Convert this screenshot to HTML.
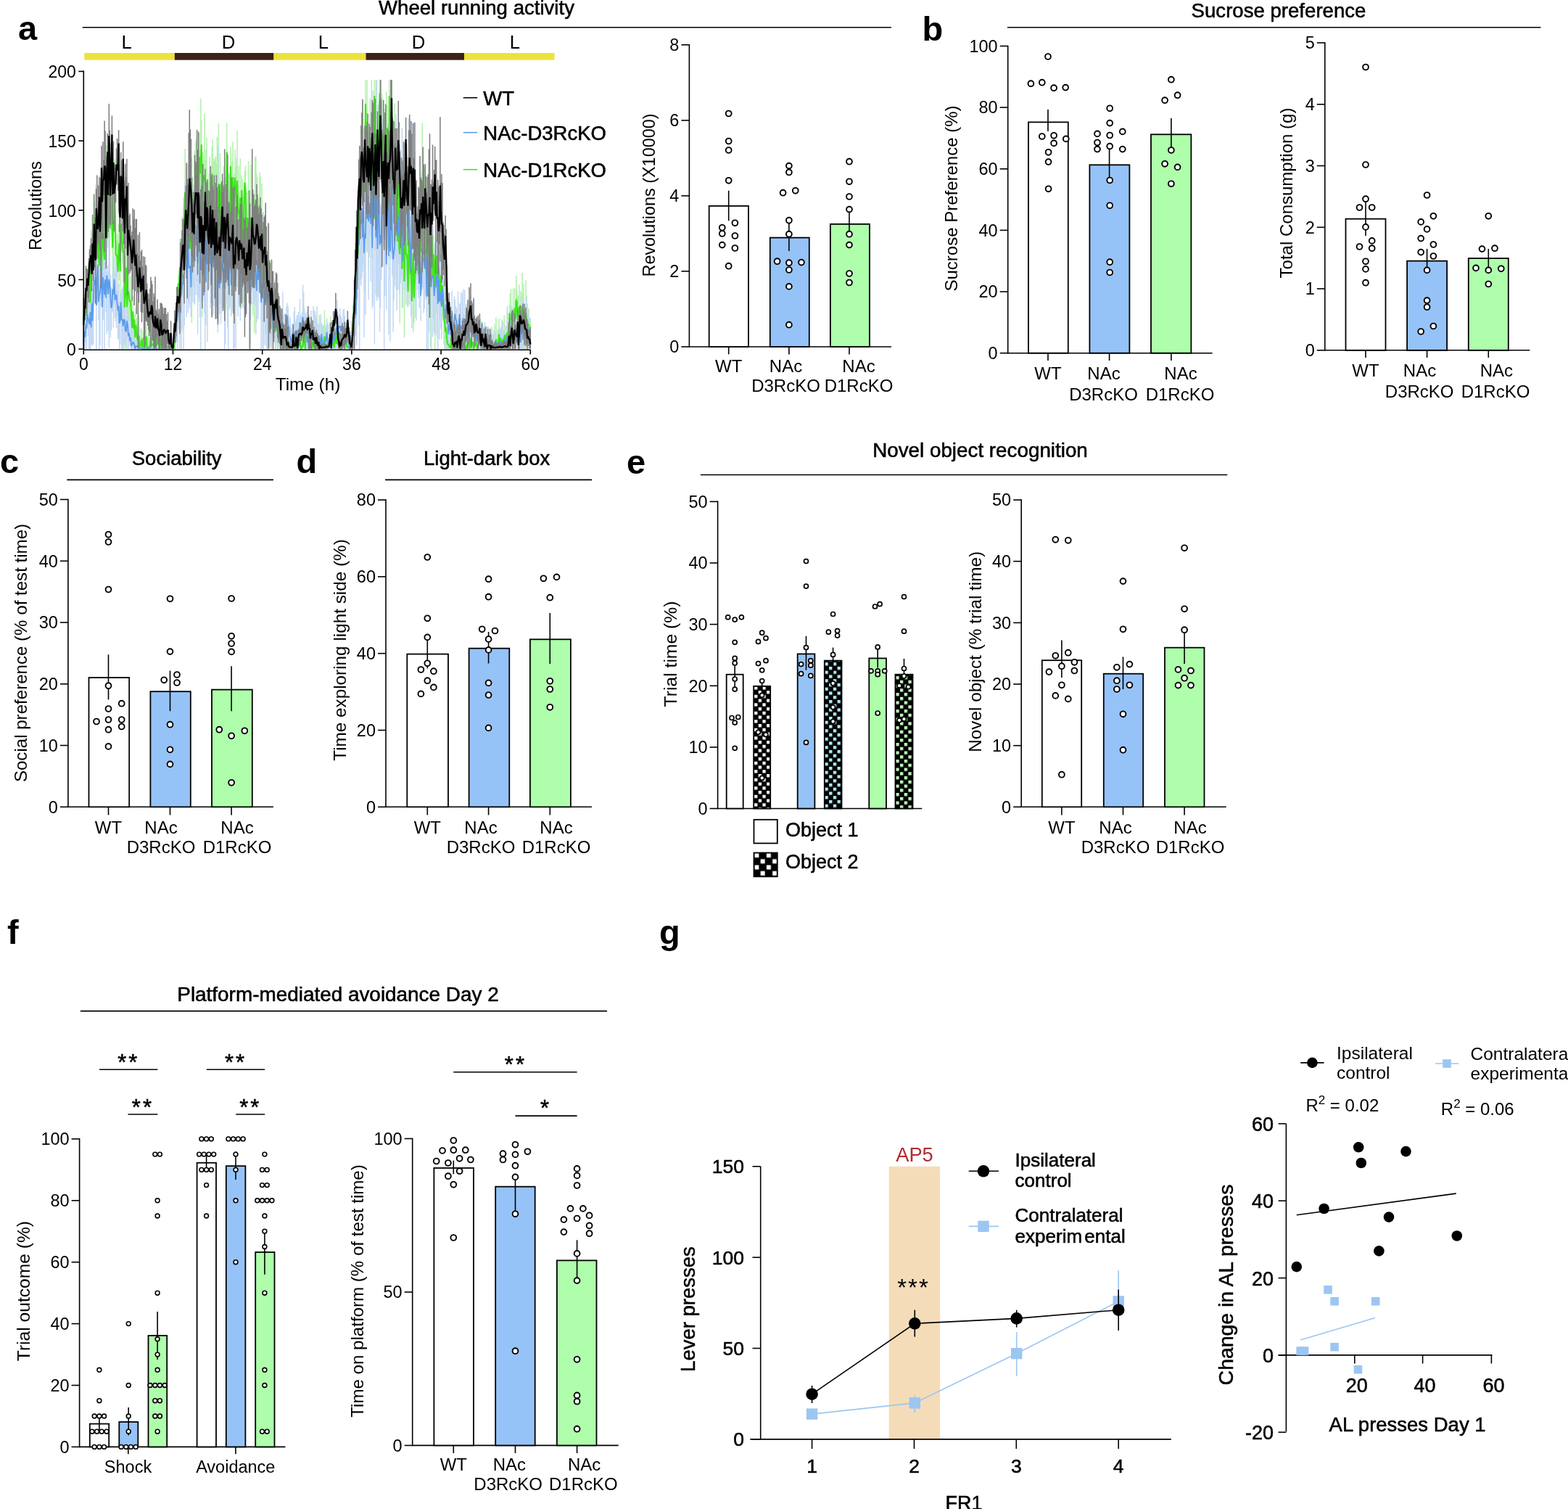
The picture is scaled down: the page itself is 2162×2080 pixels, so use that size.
<!DOCTYPE html>
<html><head><meta charset="utf-8"><title>Figure</title>
<style>html,body{margin:0;padding:0;background:#fff;} svg{display:block;} text{font-family:'Liberation Sans', Arial, sans-serif;} .ti{stroke:#000;stroke-width:0.55px;}</style>
</head><body>
<svg width="2162" height="2080" viewBox="0 0 2162 2080">
<rect width="2162" height="2080" fill="#fff"/>
<text x="25.0" y="54.5" font-size="47" text-anchor="start" font-weight="bold" fill="#000">a</text>
<text x="657.0" y="19.5" font-size="27.6" text-anchor="middle" fill="#000" class="ti">Wheel running activity</text>
<line x1="113.7" y1="37.8" x2="1229.0" y2="37.8" stroke="#000" stroke-width="1.6"/>
<rect x="116.3" y="73" width="124.5" height="9.7" fill="#ebe33c"/>
<rect x="240.8" y="73" width="136.7" height="9.7" fill="#3b2216"/>
<rect x="377.5" y="73" width="127.0" height="9.7" fill="#ebe33c"/>
<rect x="504.5" y="73" width="135.5" height="9.7" fill="#3b2216"/>
<rect x="640" y="73" width="124.5" height="9.7" fill="#ebe33c"/>
<text x="174.6" y="67.0" font-size="25.7" text-anchor="middle" fill="#000">L</text>
<text x="315.0" y="67.0" font-size="25.7" text-anchor="middle" fill="#000">D</text>
<text x="446.0" y="67.0" font-size="25.7" text-anchor="middle" fill="#000">L</text>
<text x="577.0" y="67.0" font-size="25.7" text-anchor="middle" fill="#000">D</text>
<text x="709.8" y="67.0" font-size="25.7" text-anchor="middle" fill="#000">L</text>
<path d="M115.3 459.1V428.7M116.3 456.7V429.7M117.4 440.6V400.7M118.4 441.6V418.8M119.4 474.9V386.7M120.4 432.1V389.5M121.5 409.2V364.2M122.5 425.2V384.4M123.5 388.3V347.3M124.6 426.7V408.0M125.6 367.1V317.2M126.6 376.7V322.0M127.6 351.9V324.8M128.7 376.4V319.3M129.7 364.7V326.6M130.7 353.7V277.7M131.8 366.8V254.2M132.8 391.6V294.6M133.8 372.1V289.6M134.8 341.0V257.2M135.9 418.9V288.0M136.9 395.7V333.2M137.9 344.0V250.1M139.0 370.6V272.5M140.0 416.1V337.0M141.0 345.4V298.6M142.0 415.2V265.8M143.1 379.6V321.7M144.1 393.0V330.5M145.1 320.6V260.3M146.2 325.5V200.2M147.2 338.7V264.9M148.2 341.2V313.7M149.2 319.7V216.2M150.3 342.7V184.9M151.3 386.6V233.6M152.3 317.1V247.5M153.4 309.3V223.6M154.4 341.9V259.0M155.4 405.0V277.5M156.4 366.5V263.2M157.5 320.4V284.0M158.5 322.8V219.6M159.5 404.7V298.5M160.5 364.4V331.3M161.6 381.2V322.5M162.6 417.9V331.2M163.6 370.6V308.6M164.7 386.6V287.3M165.7 434.1V320.0M166.7 339.9V261.6M167.7 346.7V281.0M168.8 363.4V322.4M169.8 389.0V301.3M170.8 418.7V286.8M171.9 481.2V363.1M172.9 412.3V353.9M173.9 407.9V339.2M174.9 481.2V367.1M176.0 441.9V347.5M177.0 439.9V369.1M178.0 458.7V371.4M179.1 438.4V398.3M180.1 441.6V380.5M181.1 449.3V415.0M182.1 481.2V430.2M183.2 452.0V407.9M184.2 477.9V435.6M185.2 451.3V432.9M186.3 478.8V451.5M187.3 476.6V423.7M188.3 475.0V438.1M189.3 481.2V450.6M190.4 481.2V445.3M191.4 481.2V435.6M192.4 481.2V450.6M193.5 481.2V464.0M194.5 481.2V454.5M195.5 481.2V452.6M196.5 481.2V469.6M197.6 472.2V456.8M198.6 481.2V459.2M199.6 481.2V469.7M200.7 481.2V432.0M201.7 481.2V446.8M202.7 481.2V463.5M203.7 481.2V466.7M204.8 481.2V444.1M205.8 481.2V470.2M206.8 481.2V461.8M207.9 472.8V453.8M208.9 481.2V459.4M209.9 481.2V459.2M210.9 481.2V443.1M212.0 480.6V466.8M213.0 481.2V452.7M214.0 481.2V437.1M215.1 481.2V464.3M216.1 481.2V458.8M217.1 471.8V448.2M218.1 481.2V468.2M219.2 481.2V459.5M220.2 481.2V429.7M221.2 481.2V462.0M222.3 481.2V474.1M223.3 481.2V453.0M224.3 481.2V462.8M225.3 481.2V449.8M226.4 481.2V447.2M227.4 481.2V463.9M228.4 480.3V469.9M229.5 479.6V475.3M230.5 481.2V468.2M231.5 481.2V472.8M232.5 481.2V470.2M233.6 481.2V471.1M234.6 481.2V474.8M235.6 481.2V475.0M236.6 481.2V477.3M237.7 481.2V479.1M238.7 481.2V474.6M239.7 481.2V461.4M240.8 468.4V451.0M241.8 474.0V424.8M242.8 465.5V418.5M243.8 470.6V401.2M244.9 455.1V401.6M245.9 407.2V379.3M246.9 441.2V372.6M248.0 390.7V329.0M249.0 442.0V379.7M250.0 441.6V376.5M251.0 348.8V299.0M252.1 374.6V310.4M253.1 327.6V271.4M254.1 325.0V295.6M255.2 321.9V204.9M256.2 303.2V261.0M257.2 317.0V233.1M258.2 347.5V274.2M259.3 398.2V288.4M260.3 356.2V302.1M261.3 380.4V243.4M262.4 387.3V283.0M263.4 394.5V255.1M264.4 445.1V216.9M265.4 304.5V243.5M266.5 317.7V285.5M267.5 407.1V305.9M268.5 407.6V207.6M269.6 343.1V194.8M270.6 269.5V191.9M271.6 302.8V209.9M272.6 365.9V253.2M273.7 340.5V293.5M274.7 262.6V183.5M275.7 267.8V205.8M276.8 341.5V136.0M277.8 219.9V165.9M278.8 436.8V226.0M279.8 366.8V210.0M280.9 265.8V221.4M281.9 351.0V156.9M282.9 278.0V219.6M284.0 351.9V205.7M285.0 356.3V189.6M286.0 386.7V307.0M287.0 299.3V250.9M288.1 386.8V239.5M289.1 313.7V215.8M290.1 332.0V282.1M291.2 272.5V229.7M292.2 311.8V202.0M293.2 345.5V192.3M294.2 285.9V222.0M295.3 371.4V218.3M296.3 395.9V221.3M297.3 395.0V215.5M298.4 421.5V225.5M299.4 338.4V188.5M300.4 299.5V270.7M301.4 337.5V170.1M302.5 403.2V290.1M303.5 313.5V210.9M304.5 318.1V269.7M305.6 336.3V295.9M306.6 325.3V268.3M307.6 336.5V248.2M308.6 279.4V229.3M309.7 343.1V278.1M310.7 359.3V299.3M311.7 427.7V256.2M312.7 240.7V169.9M313.8 321.8V234.5M314.8 417.1V248.6M315.8 311.0V239.6M316.9 415.2V279.0M317.9 266.7V202.3M318.9 436.3V297.3M319.9 329.1V221.9M321.0 288.9V195.1M322.0 382.4V299.2M323.0 283.9V239.3M324.1 285.1V206.5M325.1 306.2V228.6M326.1 383.1V218.4M327.1 299.7V179.9M328.2 310.1V270.3M329.2 389.8V228.7M330.2 334.8V270.5M331.3 306.9V218.3M332.3 355.6V297.8M333.3 283.5V241.7M334.3 422.6V247.6M335.4 405.7V297.7M336.4 317.7V261.0M337.4 269.7V235.4M338.5 298.3V228.3M339.5 364.6V309.6M340.5 331.8V265.5M341.5 393.0V273.4M342.6 372.1V222.3M343.6 333.9V270.4M344.6 469.8V294.9M345.7 358.7V227.2M346.7 383.0V315.9M347.7 351.7V319.9M348.7 434.8V311.2M349.8 419.0V316.7M350.8 458.8V274.3M351.8 372.6V216.6M352.9 337.5V215.6M353.9 444.5V239.0M354.9 278.4V244.1M355.9 351.7V274.0M357.0 385.8V334.6M358.0 389.2V237.4M359.0 354.9V243.5M360.1 359.8V334.4M361.1 400.8V253.0M362.1 333.9V292.8M363.1 466.2V324.4M364.2 427.1V369.8M365.2 399.8V326.2M366.2 398.3V320.9M367.3 424.7V349.4M368.3 378.5V342.7M369.3 414.1V307.6M370.3 452.0V378.4M371.4 415.5V357.5M372.4 428.3V358.7M373.4 446.7V396.4M374.5 444.0V358.6M375.5 462.2V413.6M376.5 461.5V399.5M377.5 451.3V393.3M378.6 454.5V424.7M379.6 454.2V430.6M380.6 480.8V431.9M381.7 467.8V421.4M382.7 477.1V414.8M383.7 481.2V428.0M384.7 459.2V438.9M385.8 481.2V441.5M386.8 481.2V434.0M387.8 481.2V436.1M388.8 481.2V442.2M389.9 479.4V462.5M390.9 481.2V435.4M391.9 481.2V464.1M393.0 481.2V449.0M394.0 481.2V469.9M395.0 481.0V437.2M396.0 481.2V469.0M397.1 481.2V444.3M398.1 481.2V466.9M399.1 481.2V468.2M400.2 480.7V475.3M401.2 481.2V475.1M402.2 481.2V475.7M403.2 481.2V471.2M404.3 481.2V472.3M405.3 481.2V472.4M406.3 481.2V471.3M407.4 481.2V471.2M408.4 481.2V456.4M409.4 481.2V441.9M410.4 481.2V449.1M411.5 481.2V452.4M412.5 478.5V466.0M413.5 475.7V457.0M414.6 481.2V467.9M415.6 481.2V471.1M416.6 481.2V456.0M417.6 481.2V447.2M418.7 476.7V447.9M419.7 468.7V445.0M420.7 481.2V466.9M421.8 480.9V436.1M422.8 478.0V447.8M423.8 481.2V442.8M424.8 481.2V450.4M425.9 481.2V433.5M426.9 481.2V442.9M427.9 481.2V460.0M429.0 481.2V452.5M430.0 481.2V446.6M431.0 481.2V453.2M432.0 481.2V450.7M433.1 481.2V455.9M434.1 481.2V457.4M435.1 481.2V466.6M436.2 475.2V449.5M437.2 481.2V461.6M438.2 478.7V450.9M439.2 481.2V462.3M440.3 481.2V433.9M441.3 481.2V458.4M442.3 481.2V433.1M443.4 481.2V448.7M444.4 481.2V448.4M445.4 481.2V459.9M446.4 481.2V449.0M447.5 481.2V427.6M448.5 481.2V447.0M449.5 481.2V450.2M450.6 481.2V459.3M451.6 481.2V444.8M452.6 481.2V468.0M453.6 481.2V465.5M454.7 481.2V445.2M455.7 481.2V436.3M456.7 479.2V450.8M457.8 481.2V459.8M458.8 481.2V455.4M459.8 481.2V455.8M460.8 481.2V469.5M461.9 471.2V452.5M462.9 481.2V450.4M463.9 481.2V466.1M464.9 463.3V445.9M466.0 480.0V451.6M467.0 475.6V454.6M468.0 481.2V444.5M469.1 481.2V453.9M470.1 481.2V463.7M471.1 481.2V467.7M472.1 478.9V453.2M473.2 481.2V455.7M474.2 481.2V453.7M475.2 481.2V457.7M476.3 481.2V444.9M477.3 481.2V448.5M478.3 481.2V473.1M479.3 481.2V468.2M480.4 481.2V474.1M481.4 481.2V472.3M482.4 481.2V473.0M483.5 481.2V475.6M484.5 481.2V478.2M485.5 481.2V454.4M486.5 470.4V421.8M487.6 465.5V419.7M488.6 438.3V385.4M489.6 447.7V395.8M490.7 407.2V367.5M491.7 452.5V373.7M492.7 350.0V323.1M493.7 386.9V311.7M494.8 292.8V250.3M495.8 308.0V228.0M496.8 358.2V213.3M497.9 296.0V201.3M498.9 298.7V219.0M499.9 279.8V139.3M500.9 261.6V177.5M502.0 302.0V221.0M503.0 324.0V222.1M504.0 201.4V109.9M505.1 308.5V150.2M506.1 348.1V109.9M507.1 222.6V176.0M508.1 372.1V182.5M509.2 270.2V225.4M510.2 281.3V135.9M511.2 246.0V164.3M512.3 356.6V109.9M513.3 322.4V281.4M514.3 318.4V151.4M515.3 270.7V137.5M516.4 159.9V109.9M517.4 345.3V254.6M518.4 291.5V109.9M519.5 353.8V155.0M520.5 216.4V166.1M521.5 287.2V196.5M522.5 218.5V157.3M523.6 148.5V109.9M524.6 234.1V134.1M525.6 232.0V109.9M526.7 271.2V130.1M527.7 303.1V215.2M528.7 226.2V138.4M529.7 287.0V149.3M530.8 326.8V184.8M531.8 253.7V187.1M532.8 324.4V126.2M533.9 198.1V145.6M534.9 295.1V190.9M535.9 329.6V209.6M536.9 285.2V109.9M538.0 208.4V124.0M539.0 208.7V109.9M540.0 323.1V115.5M541.0 340.6V182.6M542.1 319.0V165.5M543.1 352.0V192.9M544.1 283.9V142.4M545.2 285.8V170.0M546.2 384.3V249.1M547.2 303.1V207.3M548.2 396.4V242.6M549.3 256.6V231.9M550.3 357.1V312.4M551.3 445.8V266.3M552.4 352.3V236.7M553.4 332.1V266.8M554.4 425.3V322.6M555.4 331.0V217.6M556.5 318.2V254.3M557.5 465.7V333.8M558.5 311.1V248.8M559.6 396.7V317.6M560.6 380.4V315.8M561.6 422.3V297.7M562.6 423.6V382.2M563.7 346.6V300.5M564.7 420.3V301.5M565.7 392.2V360.4M566.8 383.6V354.5M567.8 452.4V372.6M568.8 413.9V345.1M569.8 382.7V319.6M570.9 444.8V377.0M571.9 415.3V366.7M572.9 438.1V308.4M574.0 354.6V317.3M575.0 337.4V299.7M576.0 383.5V351.8M577.0 403.7V350.2M578.1 381.1V257.6M579.1 374.6V308.4M580.1 409.8V296.1M581.2 311.9V237.7M582.2 393.6V169.4M583.2 349.0V241.2M584.2 332.3V292.9M585.3 353.2V230.4M586.3 393.0V338.2M587.3 384.7V265.7M588.4 409.3V322.5M589.4 332.5V254.3M590.4 339.4V262.4M591.4 370.5V326.8M592.5 371.1V341.2M593.5 477.6V339.7M594.5 417.9V307.4M595.6 374.7V288.7M596.6 417.6V357.4M597.6 362.4V339.1M598.6 373.8V342.7M599.7 481.2V334.7M600.7 386.0V347.1M601.7 380.7V327.7M602.8 396.6V368.4M603.8 419.3V369.4M604.8 395.2V346.8M605.8 443.0V385.8M606.9 414.8V368.1M607.9 399.7V358.7M608.9 450.6V398.9M610.0 412.8V367.8M611.0 438.3V385.2M612.0 475.3V420.2M613.0 481.2V397.1M614.1 481.2V434.0M615.1 462.8V429.5M616.1 481.2V453.6M617.1 481.2V442.9M618.2 481.2V464.8M619.2 481.2V468.8M620.2 481.2V467.7M621.3 481.2V456.2M622.3 471.5V454.8M623.3 481.2V439.7M624.3 481.2V472.9M625.4 480.6V476.5M626.4 481.2V473.2M627.4 481.2V468.5M628.5 481.2V476.1M629.5 481.2V476.4M630.5 481.2V472.9M631.5 481.2V469.5M632.6 481.2V470.6M633.6 481.2V473.8M634.6 481.2V472.4M635.7 481.2V472.5M636.7 481.2V468.0M637.7 481.2V466.9M638.7 481.2V472.4M639.8 481.2V438.8M640.8 481.2V462.6M641.8 481.2V458.1M642.9 481.2V469.5M643.9 481.2V463.9M644.9 481.2V450.9M645.9 481.1V460.8M647.0 481.2V448.2M648.0 481.2V468.0M649.0 481.2V448.1M650.1 481.2V458.6M651.1 481.2V457.5M652.1 481.2V453.6M653.1 481.2V451.4M654.2 481.2V443.0M655.2 481.2V466.5M656.2 481.2V450.0M657.3 481.2V460.5M658.3 481.2V470.3M659.3 481.2V456.9M660.3 480.6V462.8M661.4 481.2V451.4M662.4 481.2V439.4M663.4 468.1V454.8M664.5 481.2V448.7M665.5 481.2V447.3M666.5 481.2V459.7M667.5 481.2V458.9M668.6 481.2V450.6M669.6 481.2V458.0M670.6 481.2V449.7M671.7 481.2V464.5M672.7 481.2V449.8M673.7 481.2V465.5M674.7 481.2V467.2M675.8 481.2V460.3M676.8 481.2V457.8M677.8 481.2V450.2M678.9 477.4V462.8M679.9 481.2V465.3M680.9 481.2V460.5M681.9 481.2V446.5M683.0 481.2V466.3M684.0 481.2V437.6M685.0 481.2V466.2M686.1 481.2V453.6M687.1 481.2V455.5M688.1 471.1V439.0M689.1 481.2V465.8M690.2 472.4V458.6M691.2 481.2V470.2M692.2 481.2V440.3M693.2 481.2V447.1M694.3 481.2V456.9M695.3 481.2V434.7M696.3 471.3V448.2M697.4 481.2V458.9M698.4 470.9V451.1M699.4 481.2V421.9M700.4 481.2V431.7M701.5 464.0V437.6M702.5 477.0V420.3M703.5 461.8V404.6M704.6 481.2V398.2M705.6 436.5V422.4M706.6 481.2V431.1M707.6 457.1V398.0M708.7 454.9V432.5M709.7 446.2V396.8M710.7 468.8V414.9M711.8 449.7V379.8M712.8 430.8V399.4M713.8 462.2V409.0M714.8 441.6V407.6M715.9 461.1V392.2M716.9 474.5V431.5M717.9 446.0V401.4M719.0 452.5V430.5M720.0 481.2V375.9M721.0 481.2V404.5M722.0 458.9V390.9M723.1 467.4V437.4M724.1 481.2V434.1M725.1 481.2V386.8M726.2 477.2V407.7M727.2 455.1V428.6M728.2 469.1V426.4M729.2 476.4V425.3M730.3 478.9V437.8M731.3 460.9V438.4" stroke="#b4f2ae" stroke-width="1.54" fill="none"/>
<path d="M115.3 481.2V441.8M116.3 480.8V432.1M117.4 481.2V433.2M118.4 472.4V410.6M119.4 481.2V407.0M120.4 450.5V392.2M121.5 463.6V412.7M122.5 481.1V414.3M123.5 480.2V411.1M124.6 481.2V400.4M125.6 473.0V421.8M126.6 476.3V352.9M127.6 475.8V398.3M128.7 474.2V343.8M129.7 410.1V359.5M130.7 418.1V354.3M131.8 406.8V348.6M132.8 481.2V386.2M133.8 419.8V348.0M134.8 418.9V323.9M135.9 440.9V379.4M136.9 481.2V321.0M137.9 476.2V343.4M139.0 422.4V358.6M140.0 402.3V335.2M141.0 481.2V358.9M142.0 441.6V323.4M143.1 438.6V358.8M144.1 481.2V337.5M145.1 401.4V361.3M146.2 430.5V374.2M147.2 460.4V294.8M148.2 401.8V373.9M149.2 455.9V365.5M150.3 478.9V316.8M151.3 424.8V350.3M152.3 465.3V378.5M153.4 455.8V396.2M154.4 430.5V404.1M155.4 428.9V375.4M156.4 451.6V363.7M157.5 418.9V353.5M158.5 438.3V374.1M159.5 443.0V372.7M160.5 452.2V362.2M161.6 436.0V400.4M162.6 467.8V395.9M163.6 466.7V391.0M164.7 481.2V415.5M165.7 474.8V419.2M166.7 428.1V404.1M167.7 481.2V399.4M168.8 481.2V397.0M169.8 481.2V394.3M170.8 476.2V400.9M171.9 475.7V390.2M172.9 472.6V421.5M173.9 479.5V436.3M174.9 466.3V412.5M176.0 461.7V434.8M177.0 481.2V439.5M178.0 471.5V439.2M179.1 477.6V457.8M180.1 481.2V432.1M181.1 481.2V447.0M182.1 481.2V453.3M183.2 481.2V447.2M184.2 481.2V441.3M185.2 481.2V459.6M186.3 481.2V472.8M187.3 480.6V474.4M188.3 481.2V471.0M189.3 481.2V472.5M190.4 480.7V476.0M191.4 481.2V471.0M192.4 481.2V474.8M193.5 481.2V472.1M194.5 481.2V473.1M195.5 481.2V477.1M196.5 481.2V476.6M197.6 481.2V478.3M198.6 481.2V478.4M199.6 481.2V477.7M200.7 481.2V476.2M201.7 481.2V473.8M202.7 481.2V478.5M203.7 481.2V475.7M204.8 481.2V477.1M205.8 481.2V477.5M206.8 481.2V474.5M207.9 481.2V477.7M208.9 481.2V473.7M209.9 481.2V477.7M210.9 481.2V478.5M212.0 481.2V475.5M213.0 481.2V479.1M214.0 481.2V478.8M215.1 481.2V477.5M216.1 481.2V477.1M217.1 481.2V477.6M218.1 481.2V479.5M219.2 481.2V479.0M220.2 481.2V476.1M221.2 481.2V476.0M222.3 481.2V478.6M223.3 481.2V476.6M224.3 481.2V476.7M225.3 481.2V474.8M226.4 481.2V478.3M227.4 481.2V473.6M228.4 481.2V477.6M229.5 481.2V473.6M230.5 481.2V475.0M231.5 481.2V478.6M232.5 481.2V477.6M233.6 481.2V476.6M234.6 481.2V474.8M235.6 481.2V479.0M236.6 481.2V477.9M237.7 481.2V475.8M238.7 481.2V475.0M239.7 473.0V452.0M240.8 477.0V454.2M241.8 481.2V441.9M242.8 462.0V430.8M243.8 470.2V416.2M244.9 481.2V396.1M245.9 454.3V398.2M246.9 419.8V402.5M248.0 480.7V355.4M249.0 452.7V339.3M250.0 481.2V329.8M251.0 455.9V327.6M252.1 410.9V369.4M253.1 481.2V284.8M254.1 449.1V316.1M255.2 367.2V251.3M256.2 366.4V268.2M257.2 436.9V333.2M258.2 408.6V296.0M259.3 431.0V226.1M260.3 417.4V302.3M261.3 424.1V312.6M262.4 408.7V333.2M263.4 436.6V321.3M264.4 374.5V274.1M265.4 416.7V295.8M266.5 394.3V254.1M267.5 418.0V260.5M268.5 419.9V277.6M269.6 360.5V241.2M270.6 406.8V273.2M271.6 388.0V234.5M272.6 460.4V276.9M273.7 416.0V266.9M274.7 410.9V304.1M275.7 437.8V250.3M276.8 481.2V277.0M277.8 415.0V331.1M278.8 397.6V255.6M279.8 414.9V277.7M280.9 335.9V292.0M281.9 431.8V304.5M282.9 481.2V246.5M284.0 447.9V344.1M285.0 362.9V281.9M286.0 471.3V266.1M287.0 375.0V305.4M288.1 366.8V287.9M289.1 397.4V310.5M290.1 424.9V258.4M291.2 418.1V287.0M292.2 393.4V292.1M293.2 420.8V309.4M294.2 433.5V289.9M295.3 422.3V273.4M296.3 398.7V333.1M297.3 392.4V330.1M298.4 423.4V280.3M299.4 401.3V301.8M300.4 458.5V201.4M301.4 443.8V294.5M302.5 432.8V355.2M303.5 418.8V317.7M304.5 446.8V321.4M305.6 431.6V299.8M306.6 425.6V284.7M307.6 422.1V303.9M308.6 423.6V315.3M309.7 481.2V320.7M310.7 474.5V244.3M311.7 416.5V336.3M312.7 398.1V287.3M313.8 451.8V272.0M314.8 481.2V293.4M315.8 427.8V287.9M316.9 424.6V262.4M317.9 391.4V279.2M318.9 430.9V341.9M319.9 407.1V280.0M321.0 429.5V252.9M322.0 481.2V255.4M323.0 479.0V244.6M324.1 396.5V335.1M325.1 481.2V307.1M326.1 372.7V302.0M327.1 395.4V343.2M328.2 436.0V301.0M329.2 418.1V308.1M330.2 422.1V299.2M331.3 442.2V375.7M332.3 415.9V324.5M333.3 425.9V324.3M334.3 390.2V336.4M335.4 415.0V319.1M336.4 425.6V310.5M337.4 371.6V287.8M338.5 430.4V303.4M339.5 430.8V323.8M340.5 383.3V321.3M341.5 375.6V322.1M342.6 402.7V312.5M343.6 481.2V314.1M344.6 439.0V336.6M345.7 440.4V331.9M346.7 402.1V297.5M347.7 371.8V321.8M348.7 419.2V363.6M349.8 362.2V281.7M350.8 421.9V324.7M351.8 416.4V319.7M352.9 461.1V342.5M353.9 440.0V371.8M354.9 383.9V321.5M355.9 439.8V331.7M357.0 400.6V359.9M358.0 392.5V342.6M359.0 407.6V320.9M360.1 481.2V330.8M361.1 444.8V331.2M362.1 481.2V328.1M363.1 481.2V292.2M364.2 407.4V348.2M365.2 475.8V368.7M366.2 459.7V397.1M367.3 477.5V339.9M368.3 481.2V342.0M369.3 455.5V355.9M370.3 481.2V365.3M371.4 481.2V390.4M372.4 469.9V404.3M373.4 478.1V400.5M374.5 481.2V375.2M375.5 443.9V403.0M376.5 466.6V434.1M377.5 469.5V416.4M378.6 466.2V384.4M379.6 481.2V412.2M380.6 446.3V407.8M381.7 472.8V395.5M382.7 480.7V431.7M383.7 446.1V428.4M384.7 478.2V444.2M385.8 440.1V424.0M386.8 481.2V433.3M387.8 465.9V431.2M388.8 481.2V434.5M389.9 481.2V402.3M390.9 472.6V434.1M391.9 481.2V432.3M393.0 481.2V445.4M394.0 463.1V449.0M395.0 468.3V422.8M396.0 449.5V417.4M397.1 481.2V422.1M398.1 464.9V433.7M399.1 472.6V448.8M400.2 481.2V436.9M401.2 481.2V451.5M402.2 476.5V455.0M403.2 471.3V445.4M404.3 481.2V448.1M405.3 481.2V429.2M406.3 481.2V423.1M407.4 464.2V444.3M408.4 481.2V440.1M409.4 469.3V433.9M410.4 476.9V434.9M411.5 481.2V430.0M412.5 481.2V463.8M413.5 468.9V412.2M414.6 462.1V434.4M415.6 481.2V436.7M416.6 458.5V429.6M417.6 480.5V392.5M418.7 477.0V402.9M419.7 475.6V425.6M420.7 481.2V431.4M421.8 481.2V439.8M422.8 481.2V429.4M423.8 481.2V439.0M424.8 481.2V437.3M425.9 481.2V463.8M426.9 481.2V446.9M427.9 481.2V450.8M429.0 481.2V428.0M430.0 477.7V451.1M431.0 481.2V442.2M432.0 481.2V422.0M433.1 481.2V428.1M434.1 481.2V428.4M435.1 481.2V433.2M436.2 481.2V438.2M437.2 478.6V422.3M438.2 481.2V448.7M439.2 481.2V446.0M440.3 474.0V447.5M441.3 481.2V467.9M442.3 481.2V435.3M443.4 473.8V445.4M444.4 481.2V460.2M445.4 481.2V447.8M446.4 481.2V469.4M447.5 479.3V460.9M448.5 477.5V457.0M449.5 481.2V452.5M450.6 475.3V438.5M451.6 481.2V451.4M452.6 481.2V446.7M453.6 481.2V461.1M454.7 481.2V455.3M455.7 481.2V453.7M456.7 481.2V455.9M457.8 480.1V440.7M458.8 481.2V451.1M459.8 481.2V435.6M460.8 481.2V433.2M461.9 481.2V454.8M462.9 481.2V432.5M463.9 477.0V433.4M464.9 481.2V413.4M466.0 469.6V448.9M467.0 465.4V432.8M468.0 467.1V434.6M469.1 469.5V424.7M470.1 475.0V435.3M471.1 461.4V438.1M472.1 463.4V445.6M473.2 463.8V427.0M474.2 481.2V425.7M475.2 481.2V435.1M476.3 481.2V454.5M477.3 478.6V443.6M478.3 481.2V460.0M479.3 472.6V451.5M480.4 481.2V438.7M481.4 481.2V455.2M482.4 481.2V466.8M483.5 481.2V467.4M484.5 481.2V442.1M485.5 481.2V449.4M486.5 471.2V438.4M487.6 477.1V419.9M488.6 481.2V409.0M489.6 463.4V396.8M490.7 461.7V405.3M491.7 475.8V339.7M492.7 390.2V313.4M493.7 366.3V302.4M494.8 448.9V218.6M495.8 481.2V200.5M496.8 385.5V216.4M497.9 393.7V236.2M498.9 382.7V202.9M499.9 375.0V285.5M500.9 365.5V210.1M502.0 465.3V255.9M503.0 403.3V246.6M504.0 434.3V226.2M505.1 299.3V185.5M506.1 344.5V202.3M507.1 323.9V227.2M508.1 412.9V220.1M509.2 354.7V231.8M510.2 325.7V231.6M511.2 388.3V235.5M512.3 311.9V157.7M513.3 425.3V274.5M514.3 421.5V124.7M515.3 311.7V163.2M516.4 474.6V165.1M517.4 343.8V153.4M518.4 406.4V260.4M519.5 415.0V109.9M520.5 410.0V295.1M521.5 407.2V144.5M522.5 412.2V207.6M523.6 457.5V216.3M524.6 424.8V280.8M525.6 385.6V283.9M526.7 328.8V225.2M527.7 366.5V164.1M528.7 340.2V194.2M529.7 481.2V246.2M530.8 408.0V230.8M531.8 363.9V211.0M532.8 427.1V319.1M533.9 340.0V193.7M534.9 344.5V169.9M535.9 461.5V225.3M536.9 337.0V193.9M538.0 470.9V216.1M539.0 357.0V261.9M540.0 349.3V141.1M541.0 379.9V289.8M542.1 457.2V268.0M543.1 414.3V294.8M544.1 394.2V288.7M545.2 355.5V244.7M546.2 399.2V157.2M547.2 428.0V258.8M548.2 399.7V220.3M549.3 363.7V213.4M550.3 399.9V237.3M551.3 406.7V199.0M552.4 390.8V205.9M553.4 381.3V281.8M554.4 341.0V176.4M555.4 424.0V271.0M556.5 353.8V232.9M557.5 400.1V250.3M558.5 347.2V254.1M559.6 420.0V191.6M560.6 345.3V241.7M561.6 329.2V216.7M562.6 420.1V229.8M563.7 384.4V163.8M564.7 377.4V263.2M565.7 376.3V298.2M566.8 436.3V270.9M567.8 309.6V266.6M568.8 402.1V169.3M569.8 457.6V229.1M570.9 358.0V276.1M571.9 414.4V209.0M572.9 406.3V271.8M574.0 441.8V292.5M575.0 386.1V338.9M576.0 399.7V301.7M577.0 410.5V306.1M578.1 424.5V343.2M579.1 398.2V300.6M580.1 442.4V358.6M581.2 401.1V371.1M582.2 395.2V292.2M583.2 398.9V316.9M584.2 431.6V306.8M585.3 425.7V325.7M586.3 406.6V290.6M587.3 412.8V297.0M588.4 481.2V308.0M589.4 387.0V316.4M590.4 481.2V310.4M591.4 456.8V357.6M592.5 378.2V315.6M593.5 370.9V323.7M594.5 481.2V323.0M595.6 400.0V355.3M596.6 464.0V310.4M597.6 438.5V323.6M598.6 458.7V371.1M599.7 421.5V359.5M600.7 461.7V338.4M601.7 431.3V330.1M602.8 465.6V323.3M603.8 481.2V374.3M604.8 417.5V346.0M605.8 467.7V360.7M606.9 435.4V377.1M607.9 453.4V351.1M608.9 467.4V380.8M610.0 416.3V374.3M611.0 425.4V384.4M612.0 445.8V394.9M613.0 435.6V410.7M614.1 481.2V379.0M615.1 481.2V371.9M616.1 445.4V408.5M617.1 467.9V405.6M618.2 481.2V411.0M619.2 477.1V420.0M620.2 457.2V429.2M621.3 474.4V452.4M622.3 450.5V422.9M623.3 481.2V400.4M624.3 481.2V432.1M625.4 462.5V436.3M626.4 463.9V408.6M627.4 461.5V412.3M628.5 461.8V422.2M629.5 465.4V424.4M630.5 479.1V440.3M631.5 481.2V401.7M632.6 466.0V436.0M633.6 466.5V418.4M634.6 481.2V418.2M635.7 481.2V402.6M636.7 471.2V438.3M637.7 481.2V404.1M638.7 464.9V398.9M639.8 455.0V432.2M640.8 481.2V399.7M641.8 456.4V434.7M642.9 481.2V419.0M643.9 476.1V439.9M644.9 460.4V435.5M645.9 481.2V429.4M647.0 461.2V415.0M648.0 465.8V408.9M649.0 478.4V406.4M650.1 459.6V413.7M651.1 464.2V416.1M652.1 469.9V440.9M653.1 465.9V409.6M654.2 481.2V433.5M655.2 476.2V438.7M656.2 481.2V454.6M657.3 481.2V442.1M658.3 478.2V457.3M659.3 481.2V435.6M660.3 477.0V455.4M661.4 481.2V439.4M662.4 473.3V448.2M663.4 481.2V442.5M664.5 480.2V443.0M665.5 481.2V445.1M666.5 481.2V449.0M667.5 481.2V462.5M668.6 481.2V444.2M669.6 479.3V450.3M670.6 481.2V453.4M671.7 481.2V450.6M672.7 481.2V458.4M673.7 481.2V451.2M674.7 481.2V452.9M675.8 481.2V472.7M676.8 481.2V468.9M677.8 481.2V451.6M678.9 481.2V468.2M679.9 481.2V460.1M680.9 481.2V454.4M681.9 481.2V466.1M683.0 481.2V456.8M684.0 481.2V459.7M685.0 481.2V469.8M686.1 481.2V467.2M687.1 481.2V463.6M688.1 481.2V454.4M689.1 481.2V453.5M690.2 481.2V451.8M691.2 481.2V449.8M692.2 481.2V462.6M693.2 481.2V443.2M694.3 481.2V455.8M695.3 478.2V454.8M696.3 481.2V455.9M697.4 481.2V462.0M698.4 481.2V448.7M699.4 481.2V426.3M700.4 481.2V454.3M701.5 481.2V454.3M702.5 480.3V442.3M703.5 478.5V437.0M704.6 481.2V421.1M705.6 458.8V424.7M706.6 477.2V438.8M707.6 481.2V436.2M708.7 481.2V433.0M709.7 464.4V426.2M710.7 481.2V429.9M711.8 479.2V448.9M712.8 467.9V432.3M713.8 481.2V421.0M714.8 481.2V445.6M715.9 481.2V445.5M716.9 468.3V419.3M717.9 481.2V444.9M719.0 481.2V407.8M720.0 479.5V440.2M721.0 467.5V415.2M722.0 481.2V412.2M723.1 481.2V439.6M724.1 470.4V422.2M725.1 472.8V450.0M726.2 470.9V410.2M727.2 471.2V418.5M728.2 481.2V430.9M729.2 471.2V435.0M730.3 479.9V438.2M731.3 481.2V456.5" stroke="#c3d9f4" stroke-width="1.54" fill="none"/>
<polyline points="115.3,441.3 116.3,442.2 117.4,421.5 118.4,433.0 119.4,435.2 120.4,411.1 121.5,384.1 122.5,406.2 123.5,364.7 124.6,417.3 125.6,345.3 126.6,360.5 127.6,340.9 128.7,354.5 129.7,346.3 130.7,314.3 131.8,299.6 132.8,343.8 133.8,338.4 134.8,285.4 135.9,351.2 136.9,366.0 137.9,299.4 139.0,331.9 140.0,373.2 141.0,321.0 142.0,323.8 143.1,346.2 144.1,358.0 145.1,285.1 146.2,266.2 147.2,304.6 148.2,327.7 149.2,278.0 150.3,266.3 151.3,314.6 152.3,279.2 153.4,267.0 154.4,312.3 155.4,341.5 156.4,304.5 157.5,307.2 158.5,277.5 159.5,351.9 160.5,351.2 161.6,354.5 162.6,374.6 163.6,345.9 164.7,335.1 165.7,374.0 166.7,308.4 167.7,314.0 168.8,339.7 169.8,346.6 170.8,349.0 171.9,423.7 172.9,384.3 173.9,368.8 174.9,423.1 176.0,401.9 177.0,402.0 178.0,409.7 179.1,416.1 180.1,414.2 181.1,431.0 182.1,451.9 183.2,429.3 184.2,453.1 185.2,440.4 186.3,465.3 187.3,447.7 188.3,457.5 189.3,466.7 190.4,469.2 191.4,462.4 192.4,479.1 193.5,476.4 194.5,473.1 195.5,468.0 196.5,481.2 197.6,465.3 198.6,476.2 199.6,481.2 200.7,466.1 201.7,463.7 202.7,479.4 203.7,481.2 204.8,478.0 205.8,481.2 206.8,478.1 207.9,465.7 208.9,475.9 209.9,476.5 210.9,473.8 212.0,475.6 213.0,470.3 214.0,471.1 215.1,478.1 216.1,475.1 217.1,459.7 218.1,473.6 219.2,476.5 220.2,461.8 221.2,476.1 222.3,481.2 223.3,473.3 224.3,481.2 225.3,479.0 226.4,475.0 227.4,479.3 228.4,476.3 229.5,477.4 230.5,477.3 231.5,478.6 232.5,479.2 233.6,479.9 234.6,479.3 235.6,479.8 236.6,480.6 237.7,480.9 238.7,479.5 239.7,481.2 240.8,462.3 241.8,454.0 242.8,441.1 243.8,429.7 244.9,418.4 245.9,390.2 246.9,414.4 248.0,370.0 249.0,410.0 250.0,403.8 251.0,329.7 252.1,344.8 253.1,301.2 254.1,310.1 255.2,264.6 256.2,280.3 257.2,268.2 258.2,310.1 259.3,336.7 260.3,321.1 261.3,321.7 262.4,342.9 263.4,318.9 264.4,299.1 265.4,273.0 266.5,298.8 267.5,358.3 268.5,292.9 269.6,275.1 270.6,226.4 271.6,253.1 272.6,305.6 273.7,311.9 274.7,216.3 275.7,239.2 276.8,223.9 277.8,199.3 278.8,314.5 279.8,256.8 280.9,241.5 281.9,245.2 282.9,248.1 284.0,268.6 285.0,277.2 286.0,342.2 287.0,275.7 288.1,316.6 289.1,263.0 290.1,306.8 291.2,256.2 292.2,239.4 293.2,265.9 294.2,261.3 295.3,281.2 296.3,307.4 297.3,300.9 298.4,311.3 299.4,272.1 300.4,290.9 301.4,253.5 302.5,343.5 303.5,253.6 304.5,296.2 305.6,316.5 306.6,294.6 307.6,293.6 308.6,254.8 309.7,308.8 310.7,333.2 311.7,320.5 312.7,209.5 313.8,277.1 314.8,335.5 315.8,278.4 316.9,340.4 317.9,229.1 318.9,350.6 319.9,269.9 321.0,244.3 322.0,334.7 323.0,266.0 324.1,244.8 325.1,263.7 326.1,292.4 327.1,249.0 328.2,294.2 329.2,288.3 330.2,304.6 331.3,272.6 332.3,331.6 333.3,262.2 334.3,318.4 335.4,350.9 336.4,283.9 337.4,251.7 338.5,260.3 339.5,332.7 340.5,300.0 341.5,329.7 342.6,300.5 343.6,304.7 344.6,372.6 345.7,300.1 346.7,348.6 347.7,337.4 348.7,373.0 349.8,371.2 350.8,350.5 351.8,292.7 352.9,275.1 353.9,315.8 354.9,268.1 355.9,318.9 357.0,370.0 358.0,312.7 359.0,295.1 360.1,345.8 361.1,323.3 362.1,315.9 363.1,376.6 364.2,397.0 365.2,364.2 366.2,365.8 367.3,384.5 368.3,361.8 369.3,364.1 370.3,413.8 371.4,385.4 372.4,397.6 373.4,416.7 374.5,407.5 375.5,441.8 376.5,429.0 377.5,421.6 378.6,439.4 379.6,443.1 380.6,456.1 381.7,446.4 382.7,453.4 383.7,453.4 384.7,450.6 385.8,467.2 386.8,463.6 387.8,468.0 388.8,464.8 389.9,472.7 390.9,468.6 391.9,476.8 393.0,473.2 394.0,478.2 395.0,463.7 396.0,481.2 397.1,475.2 398.1,477.0 399.1,477.8 400.2,478.3 401.2,478.4 402.2,479.2 403.2,478.6 404.3,478.6 405.3,478.2 406.3,477.6 407.4,478.4 408.4,481.2 409.4,475.8 410.4,466.6 411.5,472.4 412.5,473.2 413.5,466.4 414.6,480.7 415.6,481.2 416.6,476.4 417.6,478.1 418.7,462.7 419.7,459.5 420.7,481.2 421.8,456.0 422.8,462.0 423.8,465.8 424.8,471.9 425.9,455.5 426.9,469.9 427.9,478.6 429.0,472.2 430.0,481.2 431.0,471.0 432.0,477.7 433.1,474.5 434.1,471.8 435.1,481.1 436.2,461.7 437.2,480.2 438.2,464.7 439.2,477.4 440.3,468.6 441.3,476.2 442.3,467.0 443.4,470.7 444.4,478.1 445.4,474.0 446.4,469.5 447.5,463.7 448.5,475.6 449.5,481.2 450.6,480.2 451.6,473.3 452.6,478.3 453.6,477.4 454.7,467.8 455.7,463.9 456.7,465.7 457.8,476.6 458.8,470.8 459.8,472.7 460.8,479.7 461.9,461.6 462.9,468.3 463.9,473.9 464.9,457.3 466.0,464.9 467.0,465.5 468.0,465.3 469.1,468.5 470.1,481.2 471.1,478.7 472.1,465.7 473.2,478.9 474.2,475.2 475.2,471.8 476.3,466.1 477.3,467.8 478.3,478.8 479.3,478.3 480.4,478.4 481.4,478.7 482.4,479.4 483.5,480.2 484.5,481.0 485.5,480.2 486.5,445.0 487.6,442.7 488.6,410.2 489.6,422.7 490.7,386.3 491.7,411.4 492.7,337.6 493.7,350.0 494.8,270.1 495.8,264.9 496.8,278.0 497.9,242.1 498.9,256.6 499.9,202.7 500.9,221.1 502.0,262.2 503.0,264.2 504.0,143.3 505.1,223.5 506.1,168.1 507.1,205.2 508.1,254.8 509.2,253.3 510.2,203.5 511.2,194.8 512.3,189.1 513.3,304.4 514.3,250.0 515.3,217.5 516.4,131.9 517.4,302.1 518.4,184.3 519.5,249.6 520.5,189.5 521.5,237.8 522.5,187.1 523.6,128.3 524.6,173.0 525.6,185.2 526.7,187.3 527.7,262.8 528.7,183.3 529.7,223.0 530.8,259.3 531.8,220.3 532.8,228.8 533.9,176.0 534.9,236.1 535.9,274.5 536.9,132.4 538.0,167.0 539.0,160.9 540.0,211.9 541.0,250.7 542.1,252.4 543.1,275.4 544.1,197.8 545.2,236.2 546.2,324.9 547.2,253.8 548.2,332.9 549.3,248.6 550.3,340.1 551.3,350.5 552.4,288.5 553.4,296.4 554.4,370.7 555.4,284.4 556.5,282.9 557.5,388.1 558.5,283.0 559.6,351.3 560.6,349.7 561.6,357.9 562.6,401.7 563.7,328.5 564.7,347.7 565.7,378.2 566.8,369.2 567.8,415.2 568.8,376.9 569.8,348.9 570.9,410.6 571.9,385.7 572.9,370.1 574.0,337.0 575.0,326.1 576.0,368.2 577.0,377.9 578.1,327.0 579.1,345.6 580.1,347.6 581.2,268.8 582.2,249.8 583.2,285.6 584.2,314.6 585.3,289.1 586.3,371.0 587.3,318.4 588.4,363.3 589.4,296.7 590.4,301.3 591.4,349.3 592.5,357.5 593.5,394.7 594.5,338.3 595.6,326.2 596.6,382.6 597.6,350.4 598.6,358.9 599.7,394.6 600.7,367.5 601.7,352.4 602.8,382.7 603.8,392.0 604.8,371.0 605.8,411.7 606.9,395.7 607.9,379.4 608.9,419.3 610.0,393.6 611.0,414.3 612.0,442.0 613.0,440.5 614.1,457.5 615.1,451.4 616.1,467.6 617.1,473.8 618.2,475.3 619.2,476.5 620.2,478.4 621.3,479.7 622.3,464.5 623.3,472.5 624.3,478.0 625.4,478.9 626.4,477.8 627.4,478.5 628.5,479.4 629.5,479.0 630.5,479.4 631.5,479.3 632.6,479.0 633.6,478.1 634.6,478.0 635.7,478.5 636.7,477.2 637.7,477.0 638.7,477.3 639.8,471.7 640.8,477.1 641.8,481.2 642.9,480.3 643.9,475.6 644.9,472.1 645.9,471.9 647.0,475.2 648.0,481.2 649.0,466.1 650.1,475.3 651.1,472.2 652.1,472.2 653.1,481.2 654.2,477.1 655.2,476.1 656.2,470.1 657.3,476.3 658.3,481.2 659.3,476.8 660.3,473.9 661.4,468.0 662.4,471.4 663.4,461.0 664.5,468.2 665.5,468.8 666.5,470.3 667.5,481.2 668.6,471.1 669.6,472.4 670.6,481.2 671.7,473.4 672.7,473.6 673.7,480.8 674.7,477.4 675.8,476.2 676.8,472.4 677.8,476.5 678.9,471.1 679.9,481.2 680.9,474.5 681.9,481.2 683.0,476.3 684.0,467.6 685.0,473.6 686.1,474.7 687.1,472.1 688.1,460.5 689.1,478.4 690.2,465.4 691.2,478.6 692.2,475.7 693.2,467.8 694.3,469.2 695.3,464.7 696.3,461.6 697.4,472.4 698.4,461.9 699.4,458.1 700.4,472.0 701.5,450.3 702.5,444.4 703.5,439.0 704.6,440.6 705.6,429.2 706.6,454.5 707.6,428.6 708.7,443.1 709.7,424.5 710.7,440.1 711.8,412.7 712.8,416.6 713.8,437.4 714.8,424.7 715.9,423.7 716.9,456.7 717.9,420.7 719.0,442.0 720.0,422.7 721.0,445.6 722.0,427.0 723.1,453.9 724.1,453.1 725.1,431.1 726.2,439.5 727.2,442.7 728.2,448.2 729.2,447.7 730.3,456.5 731.3,451.1" fill="none" stroke="#3ee61c" stroke-width="2.2" stroke-linejoin="bevel"/>
<polyline points="115.3,472.0 116.3,456.5 117.4,464.7 118.4,447.6 119.4,452.7 120.4,433.0 121.5,438.7 122.5,443.8 123.5,446.9 124.6,430.0 125.6,451.2 126.6,417.7 127.6,442.3 128.7,413.8 129.7,386.5 130.7,393.1 131.8,381.9 132.8,421.0 133.8,385.3 134.8,364.9 135.9,415.9 136.9,406.2 137.9,404.5 139.0,391.3 140.0,371.2 141.0,423.6 142.0,382.2 143.1,393.8 144.1,406.4 145.1,385.2 146.2,410.7 147.2,379.9 148.2,387.9 149.2,405.8 150.3,385.0 151.3,391.2 152.3,409.0 153.4,424.8 154.4,420.7 155.4,398.3 156.4,405.9 157.5,384.8 158.5,413.7 159.5,409.4 160.5,406.1 161.6,418.6 162.6,428.2 163.6,421.8 164.7,445.8 165.7,441.9 166.7,416.4 167.7,441.1 168.8,440.7 169.8,449.9 170.8,439.9 171.9,441.7 172.9,455.4 173.9,457.2 174.9,442.1 176.0,448.3 177.0,463.6 178.0,459.0 179.1,470.2 180.1,465.0 181.1,477.0 182.1,474.7 183.2,471.5 184.2,472.4 185.2,474.5 186.3,481.2 187.3,477.3 188.3,476.9 189.3,477.3 190.4,478.2 191.4,478.6 192.4,479.5 193.5,480.0 194.5,480.0 195.5,480.5 196.5,480.8 197.6,481.2 198.6,481.2 199.6,481.2 200.7,481.2 201.7,481.2 202.7,481.2 203.7,481.2 204.8,481.2 205.8,481.2 206.8,481.2 207.9,481.2 208.9,481.2 209.9,481.2 210.9,481.2 212.0,481.2 213.0,481.2 214.0,481.2 215.1,481.2 216.1,481.2 217.1,481.2 218.1,481.2 219.2,481.2 220.2,481.2 221.2,481.2 222.3,481.2 223.3,481.2 224.3,481.2 225.3,481.2 226.4,481.2 227.4,481.2 228.4,481.2 229.5,481.2 230.5,481.2 231.5,481.2 232.5,481.2 233.6,481.2 234.6,481.2 235.6,481.2 236.6,481.2 237.7,481.2 238.7,480.2 239.7,462.1 240.8,466.4 241.8,466.6 242.8,445.0 243.8,443.6 244.9,437.6 245.9,428.7 246.9,412.5 248.0,416.1 249.0,404.1 250.0,407.4 251.0,392.7 252.1,391.6 253.1,378.2 254.1,377.3 255.2,333.3 256.2,319.7 257.2,383.9 258.2,348.2 259.3,336.8 260.3,369.6 261.3,367.3 262.4,367.1 263.4,396.1 264.4,335.4 265.4,361.5 266.5,350.0 267.5,346.3 268.5,340.0 269.6,310.2 270.6,338.6 271.6,321.4 272.6,362.8 273.7,334.3 274.7,347.2 275.7,343.0 276.8,372.3 277.8,370.5 278.8,331.6 279.8,331.5 280.9,315.9 281.9,366.5 282.9,343.0 284.0,389.3 285.0,327.3 286.0,364.2 287.0,343.1 288.1,328.2 289.1,363.6 290.1,339.0 291.2,367.5 292.2,340.0 293.2,362.0 294.2,352.7 295.3,324.0 296.3,373.9 297.3,366.7 298.4,362.5 299.4,355.8 300.4,313.2 301.4,372.9 302.5,397.4 303.5,376.7 304.5,390.0 305.6,370.0 306.6,356.3 307.6,375.5 308.6,370.1 309.7,398.5 310.7,353.5 311.7,383.8 312.7,336.0 313.8,351.2 314.8,393.9 315.8,370.6 316.9,361.1 317.9,334.9 318.9,393.2 319.9,356.2 321.0,329.5 322.0,361.6 323.0,350.6 324.1,359.9 325.1,386.6 326.1,343.4 327.1,364.9 328.2,367.3 329.2,359.5 330.2,346.5 331.3,406.7 332.3,359.7 333.3,374.6 334.3,364.9 335.4,372.1 336.4,369.2 337.4,340.0 338.5,367.5 339.5,378.3 340.5,354.8 341.5,357.5 342.6,371.6 343.6,399.2 344.6,395.1 345.7,375.2 346.7,355.4 347.7,345.5 348.7,397.3 349.8,325.8 350.8,374.9 351.8,363.9 352.9,387.2 353.9,401.0 354.9,359.4 355.9,385.7 357.0,380.7 358.0,369.9 359.0,360.4 360.1,417.3 361.1,391.9 362.1,411.7 363.1,370.6 364.2,382.4 365.2,408.4 366.2,420.6 367.3,405.6 368.3,394.4 369.3,403.8 370.3,413.4 371.4,433.1 372.4,441.3 373.4,437.8 374.5,430.4 375.5,425.0 376.5,453.1 377.5,446.0 378.6,432.8 379.6,443.3 380.6,432.5 381.7,433.7 382.7,458.5 383.7,438.9 384.7,459.3 385.8,433.0 386.8,453.4 387.8,449.0 388.8,461.4 389.9,444.7 390.9,451.5 391.9,455.3 393.0,465.0 394.0,456.1 395.0,439.7 396.0,434.8 397.1,449.6 398.1,450.2 399.1,461.7 400.2,465.7 401.2,472.1 402.2,468.5 403.2,459.5 404.3,465.5 405.3,458.3 406.3,461.6 407.4,455.8 408.4,475.1 409.4,455.4 410.4,459.8 411.5,463.1 412.5,477.8 413.5,444.4 414.6,446.8 415.6,455.2 416.6,445.4 417.6,437.2 418.7,446.9 419.7,456.5 420.7,457.5 421.8,455.1 422.8,463.9 423.8,472.2 424.8,464.3 425.9,481.2 426.9,462.8 427.9,469.0 429.0,462.7 430.0,463.8 431.0,463.0 432.0,459.7 433.1,458.3 434.1,466.7 435.1,457.4 436.2,462.2 437.2,458.6 438.2,474.5 439.2,468.1 440.3,462.5 441.3,477.4 442.3,469.4 443.4,460.3 444.4,472.9 445.4,473.7 446.4,481.2 447.5,470.4 448.5,470.4 449.5,469.1 450.6,457.6 451.6,472.5 452.6,472.4 453.6,476.8 454.7,475.0 455.7,470.0 456.7,469.1 457.8,462.2 458.8,472.6 459.8,470.6 460.8,458.4 461.9,469.2 462.9,458.7 463.9,451.8 464.9,452.5 466.0,459.1 467.0,449.3 468.0,451.6 469.1,449.3 470.1,457.1 471.1,449.0 472.1,454.9 473.2,449.3 474.2,462.3 475.2,470.6 476.3,470.3 477.3,466.2 478.3,472.4 479.3,460.8 480.4,468.7 481.4,478.2 482.4,481.2 483.5,481.2 484.5,466.1 485.5,470.3 486.5,457.3 487.6,449.1 488.6,438.4 489.6,424.7 490.7,433.6 491.7,407.8 492.7,355.2 493.7,336.7 494.8,337.7 495.8,319.6 496.8,306.3 497.9,308.2 498.9,286.9 499.9,327.5 500.9,290.9 502.0,349.0 503.0,323.0 504.0,328.5 505.1,246.3 506.1,295.4 507.1,270.2 508.1,305.4 509.2,297.7 510.2,279.8 511.2,308.4 512.3,245.7 513.3,341.7 514.3,256.9 515.3,227.8 516.4,298.2 517.4,274.6 518.4,327.4 519.5,270.7 520.5,342.9 521.5,254.8 522.5,297.1 523.6,337.9 524.6,324.1 525.6,335.0 526.7,284.8 527.7,250.3 528.7,282.4 529.7,331.4 530.8,305.7 531.8,272.2 532.8,364.5 533.9,262.1 534.9,273.7 535.9,353.2 536.9,259.0 538.0,346.5 539.0,306.5 540.0,255.0 541.0,339.8 542.1,357.8 543.1,347.6 544.1,341.0 545.2,307.7 546.2,306.8 547.2,318.2 548.2,324.6 549.3,297.8 550.3,326.9 551.3,288.6 552.4,308.2 553.4,327.3 554.4,254.7 555.4,360.0 556.5,291.7 557.5,338.3 558.5,301.5 559.6,292.8 560.6,295.1 561.6,280.3 562.6,330.6 563.7,276.8 564.7,317.3 565.7,350.0 566.8,375.5 567.8,286.5 568.8,287.5 569.8,343.0 570.9,315.7 571.9,314.1 572.9,343.5 574.0,365.9 575.0,360.2 576.0,348.2 577.0,358.2 578.1,390.1 579.1,347.7 580.1,407.6 581.2,387.6 582.2,342.6 583.2,357.2 584.2,359.2 585.3,369.3 586.3,344.5 587.3,357.7 588.4,408.6 589.4,353.0 590.4,408.9 591.4,403.9 592.5,349.9 593.5,350.2 594.5,395.7 595.6,380.5 596.6,383.0 597.6,379.6 598.6,408.0 599.7,394.5 600.7,395.9 601.7,379.2 602.8,386.1 603.8,419.0 604.8,381.2 605.8,416.0 606.9,402.5 607.9,412.8 608.9,422.9 610.0,398.3 611.0,408.5 612.0,426.2 613.0,426.1 614.1,439.6 615.1,419.6 616.1,426.6 617.1,432.0 618.2,460.6 619.2,450.6 620.2,445.4 621.3,462.1 622.3,435.1 623.3,442.4 624.3,460.4 625.4,449.9 626.4,441.7 627.4,432.7 628.5,439.9 629.5,443.3 630.5,459.7 631.5,447.1 632.6,451.8 633.6,438.5 634.6,461.8 635.7,448.6 636.7,454.0 637.7,450.3 638.7,438.8 639.8,444.8 640.8,446.6 641.8,447.5 642.9,452.8 643.9,454.9 644.9,446.9 645.9,466.4 647.0,445.8 648.0,433.7 649.0,434.5 650.1,437.9 651.1,438.2 652.1,455.9 653.1,440.3 654.2,456.8 655.2,459.0 656.2,471.7 657.3,461.0 658.3,467.9 659.3,453.3 660.3,468.2 661.4,474.0 662.4,460.7 663.4,457.8 664.5,461.4 665.5,470.6 666.5,470.4 667.5,479.6 668.6,475.7 669.6,466.4 670.6,472.0 671.7,480.8 672.7,469.0 673.7,475.2 674.7,471.8 675.8,481.2 676.8,480.5 677.8,473.5 678.9,476.0 679.9,473.7 680.9,476.9 681.9,479.5 683.0,473.7 684.0,470.8 685.0,481.2 686.1,478.7 687.1,476.6 688.1,474.7 689.1,469.4 690.2,481.2 691.2,470.2 692.2,481.2 693.2,475.3 694.3,472.3 695.3,467.2 696.3,475.5 697.4,473.6 698.4,473.0 699.4,462.7 700.4,481.2 701.5,471.3 702.5,461.6 703.5,462.6 704.6,456.4 705.6,442.2 706.6,456.3 707.6,470.8 708.7,456.6 709.7,451.3 710.7,456.8 711.8,464.4 712.8,452.9 713.8,456.5 714.8,466.3 715.9,466.0 716.9,445.1 717.9,471.9 719.0,451.1 720.0,456.2 721.0,439.8 722.0,455.2 723.1,462.2 724.1,448.1 725.1,461.2 726.2,442.7 727.2,448.9 728.2,460.0 729.2,453.3 730.3,461.1 731.3,474.9" fill="none" stroke="#5c9cec" stroke-width="1.8" stroke-linejoin="bevel"/>
<path d="M115.3 481.2V411.2M116.3 437.8V411.5M117.4 441.1V405.8M118.4 417.7V366.6M119.4 432.1V369.9M120.4 402.9V371.0M121.5 410.5V377.3M122.5 416.7V355.9M123.5 378.9V343.5M124.6 375.9V337.9M125.6 373.6V328.4M126.6 401.6V353.0M127.6 368.8V295.9M128.7 387.2V357.4M129.7 341.6V267.5M130.7 368.9V322.0M131.8 418.6V322.6M132.8 323.4V260.5M133.8 356.7V241.5M134.8 330.4V299.2M135.9 335.5V255.2M136.9 305.5V243.8M137.9 344.6V289.8M139.0 397.4V245.4M140.0 249.3V200.9M141.0 329.1V233.7M142.0 329.7V195.2M143.1 269.6V220.3M144.1 347.1V166.6M145.1 301.6V180.4M146.2 370.5V298.6M147.2 278.8V215.8M148.2 245.0V184.1M149.2 319.4V232.8M150.3 234.6V143.0M151.3 308.4V179.4M152.3 310.3V234.8M153.4 238.0V196.9M154.4 215.2V159.5M155.4 309.0V244.8M156.4 249.5V194.7M157.5 318.7V226.4M158.5 280.0V230.9M159.5 278.8V226.7M160.5 237.1V204.6M161.6 254.4V191.0M162.6 263.0V205.3M163.6 213.5V179.2M164.7 319.9V243.9M165.7 360.2V252.7M166.7 280.0V209.7M167.7 272.1V220.8M168.8 318.9V269.3M169.8 247.5V195.2M170.8 336.7V249.6M171.9 389.8V268.9M172.9 342.5V225.8M173.9 314.7V244.0M174.9 292.2V219.1M176.0 407.0V310.1M177.0 378.5V252.1M178.0 340.2V297.4M179.1 376.4V294.6M180.1 373.4V310.7M181.1 370.9V324.6M182.1 414.8V319.2M183.2 399.0V287.2M184.2 355.1V302.7M185.2 421.0V289.1M186.3 401.2V314.1M187.3 381.5V301.8M188.3 433.1V301.7M189.3 403.7V349.0M190.4 481.2V323.8M191.4 417.1V352.7M192.4 397.6V320.1M193.5 403.4V359.6M194.5 430.3V346.4M195.5 444.3V344.2M196.5 431.2V367.6M197.6 413.4V353.3M198.6 466.9V377.6M199.6 478.6V353.9M200.7 443.1V364.9M201.7 441.4V366.3M202.7 444.1V390.4M203.7 448.8V403.4M204.8 454.7V405.1M205.8 462.9V412.1M206.8 458.3V398.1M207.9 479.0V381.8M208.9 440.0V386.9M209.9 468.4V392.1M210.9 469.9V415.4M212.0 481.2V404.2M213.0 481.2V409.2M214.0 477.9V381.2M215.1 481.2V426.7M216.1 464.7V429.1M217.1 454.9V412.8M218.1 473.7V432.8M219.2 481.2V425.7M220.2 481.2V436.3M221.2 462.7V417.9M222.3 475.9V417.2M223.3 481.2V418.7M224.3 481.2V423.3M225.3 476.3V432.5M226.4 481.2V424.8M227.4 481.2V424.0M228.4 481.2V424.7M229.5 481.2V433.1M230.5 473.4V442.5M231.5 474.7V430.5M232.5 481.2V455.1M233.6 481.2V458.8M234.6 481.2V461.1M235.6 471.7V442.3M236.6 479.2V474.8M237.7 481.2V477.4M238.7 481.2V477.9M239.7 474.4V454.4M240.8 470.1V427.8M241.8 472.6V443.9M242.8 463.5V416.7M243.8 443.3V395.4M244.9 424.3V394.9M245.9 429.9V398.4M246.9 426.1V407.6M248.0 460.3V368.2M249.0 431.0V334.6M250.0 399.8V328.9M251.0 383.9V317.4M252.1 371.9V301.8M253.1 372.8V303.5M254.1 418.4V329.2M255.2 341.0V265.6M256.2 318.8V255.7M257.2 358.0V224.2M258.2 411.6V246.7M259.3 325.7V254.7M260.3 343.3V183.1M261.3 318.2V151.3M262.4 333.6V178.2M263.4 322.5V191.5M264.4 353.2V244.9M265.4 375.4V276.3M266.5 306.6V264.6M267.5 368.1V280.1M268.5 359.9V213.8M269.6 294.3V222.6M270.6 296.1V242.1M271.6 353.7V179.1M272.6 378.8V206.5M273.7 346.1V181.5M274.7 337.8V277.0M275.7 390.6V268.6M276.8 334.0V261.1M277.8 335.4V255.9M278.8 425.2V286.3M279.8 379.5V225.9M280.9 407.3V310.8M281.9 402.6V278.0M282.9 316.8V232.8M284.0 361.0V268.7M285.0 325.3V250.5M286.0 326.8V247.1M287.0 400.3V262.3M288.1 374.5V287.3M289.1 352.9V263.7M290.1 337.0V229.1M291.2 392.8V276.3M292.2 437.5V241.7M293.2 329.9V256.5M294.2 368.5V309.5M295.3 357.0V241.6M296.3 411.2V288.7M297.3 439.7V252.0M298.4 372.5V241.3M299.4 439.6V258.3M300.4 447.5V285.0M301.4 381.8V301.2M302.5 391.2V256.3M303.5 386.6V316.9M304.5 384.6V289.0M305.6 356.2V250.3M306.6 323.7V239.5M307.6 428.6V265.0M308.6 362.7V258.1M309.7 442.4V205.4M310.7 369.2V308.2M311.7 389.4V254.1M312.7 337.9V260.6M313.8 386.2V213.1M314.8 343.9V278.5M315.8 406.6V281.1M316.9 349.0V310.3M317.9 370.5V291.7M318.9 375.4V244.2M319.9 407.9V283.5M321.0 366.7V258.8M322.0 432.6V302.6M323.0 446.1V257.2M324.1 394.9V330.7M325.1 401.4V285.0M326.1 368.5V284.6M327.1 370.7V267.9M328.2 371.8V303.1M329.2 406.3V330.9M330.2 372.1V302.3M331.3 423.6V281.3M332.3 377.8V282.2M333.3 418.2V271.9M334.3 395.8V328.9M335.4 389.5V316.0M336.4 392.5V300.3M337.4 464.4V302.9M338.5 437.0V299.3M339.5 433.0V332.5M340.5 388.3V313.2M341.5 403.9V314.1M342.6 387.0V306.4M343.6 418.1V262.4M344.6 481.2V280.4M345.7 419.7V312.9M346.7 385.6V305.4M347.7 395.0V205.2M348.7 370.2V261.3M349.8 396.4V267.4M350.8 396.8V285.1M351.8 375.7V282.2M352.9 366.3V275.0M353.9 364.4V254.1M354.9 338.2V283.4M355.9 370.5V286.4M357.0 374.9V294.4M358.0 403.7V283.7M359.0 370.0V271.9M360.1 410.1V287.2M361.1 338.8V296.0M362.1 409.3V327.2M363.1 385.4V306.1M364.2 443.8V299.2M365.2 366.8V296.7M366.2 416.2V279.6M367.3 400.0V312.1M368.3 439.0V346.0M369.3 409.8V370.4M370.3 480.2V307.4M371.4 457.5V359.4M372.4 459.6V362.4M373.4 453.4V389.9M374.5 421.6V357.7M375.5 424.8V373.7M376.5 481.2V373.8M377.5 471.7V415.2M378.6 458.4V389.4M379.6 450.8V398.1M380.6 452.4V375.5M381.7 445.7V377.4M382.7 465.4V390.1M383.7 472.2V403.9M384.7 468.0V408.3M385.8 474.3V421.5M386.8 481.2V424.8M387.8 481.2V445.7M388.8 475.9V425.6M389.9 481.2V447.7M390.9 481.2V447.5M391.9 481.2V447.6M393.0 470.6V453.1M394.0 481.2V432.9M395.0 481.2V439.3M396.0 481.2V450.1M397.1 481.2V450.8M398.1 481.2V469.6M399.1 480.6V475.8M400.2 481.2V471.8M401.2 480.7V476.8M402.2 481.2V475.2M403.2 481.2V475.0M404.3 473.3V447.1M405.3 481.2V463.1M406.3 481.2V460.3M407.4 481.2V468.1M408.4 471.5V455.4M409.4 481.2V465.6M410.4 481.2V468.1M411.5 477.2V453.8M412.5 464.9V453.7M413.5 475.0V444.6M414.6 464.9V451.5M415.6 469.9V452.4M416.6 466.3V450.1M417.6 456.4V441.4M418.7 472.3V441.9M419.7 464.5V443.6M420.7 460.1V445.9M421.8 458.3V441.3M422.8 455.1V438.6M423.8 460.6V448.6M424.8 459.7V422.1M425.9 481.2V435.8M426.9 455.8V445.8M427.9 481.2V446.9M429.0 481.2V437.1M430.0 469.2V454.7M431.0 467.1V441.5M432.0 475.5V458.4M433.1 480.9V450.5M434.1 469.4V461.7M435.1 481.2V459.7M436.2 474.6V454.5M437.2 481.2V460.0M438.2 481.2V460.7M439.2 474.5V466.1M440.3 481.2V469.9M441.3 479.1V473.3M442.3 481.2V474.0M443.4 481.2V474.3M444.4 481.2V474.9M445.4 480.7V476.1M446.4 481.2V474.5M447.5 481.2V476.2M448.5 481.2V474.0M449.5 481.2V474.4M450.6 480.6V474.8M451.6 481.1V474.4M452.6 479.9V476.0M453.6 479.8V474.9M454.7 478.4V460.0M455.7 471.6V444.5M456.7 481.2V462.2M457.8 458.9V444.0M458.8 467.2V451.3M459.8 455.7V428.8M460.8 461.5V440.0M461.9 444.8V429.4M462.9 446.5V403.7M463.9 446.3V426.5M464.9 448.3V429.2M466.0 475.2V457.1M467.0 481.2V456.5M468.0 481.2V458.4M469.1 481.2V459.0M470.1 481.1V469.5M471.1 477.9V459.9M472.1 481.2V445.3M473.2 476.8V460.2M474.2 477.6V453.2M475.2 481.2V443.4M476.3 475.3V452.5M477.3 473.1V451.9M478.3 468.1V450.4M479.3 450.2V428.6M480.4 472.7V443.8M481.4 475.1V451.3M482.4 481.2V456.7M483.5 481.2V462.1M484.5 481.2V473.3M485.5 481.2V455.4M486.5 481.2V437.0M487.6 451.9V417.4M488.6 481.2V385.7M489.6 438.3V343.9M490.7 413.2V334.2M491.7 331.3V290.2M492.7 398.7V319.2M493.7 291.8V263.6M494.8 290.1V220.0M495.8 315.7V201.1M496.8 329.6V258.5M497.9 271.7V172.8M498.9 251.6V155.3M499.9 283.6V136.8M500.9 307.3V203.4M502.0 278.4V226.8M503.0 208.4V173.4M504.0 264.7V178.8M505.1 292.5V173.0M506.1 301.7V180.6M507.1 244.5V156.6M508.1 295.2V217.0M509.2 242.4V170.5M510.2 248.4V174.6M511.2 299.4V217.9M512.3 268.2V154.7M513.3 217.4V138.0M514.3 311.5V141.4M515.3 301.7V210.0M516.4 272.6V184.5M517.4 230.6V135.8M518.4 317.3V207.4M519.5 272.9V202.2M520.5 204.0V153.6M521.5 271.3V201.8M522.5 295.2V193.5M523.6 247.6V138.7M524.6 216.0V109.9M525.6 247.0V135.9M526.7 368.5V178.7M527.7 295.4V232.2M528.7 288.0V137.7M529.7 344.9V186.9M530.8 299.3V155.1M531.8 222.0V143.4M532.8 351.7V262.6M533.9 270.8V209.9M534.9 289.9V178.5M535.9 277.0V212.6M536.9 280.5V181.9M538.0 253.6V179.2M539.0 317.6V109.9M540.0 159.9V109.9M541.0 260.4V162.0M542.1 283.2V208.3M543.1 307.9V166.9M544.1 333.3V201.0M545.2 236.9V176.8M546.2 260.9V202.6M547.2 318.5V176.9M548.2 274.3V196.8M549.3 253.4V138.9M550.3 254.0V168.3M551.3 271.9V208.8M552.4 341.8V245.0M553.4 313.7V217.6M554.4 324.6V242.0M555.4 309.0V221.6M556.5 284.5V195.0M557.5 338.1V238.8M558.5 331.9V197.1M559.6 241.7V162.0M560.6 292.0V198.2M561.6 312.0V237.1M562.6 339.0V229.3M563.7 290.4V179.4M564.7 248.7V158.1M565.7 289.2V179.5M566.8 290.5V166.7M567.8 284.9V184.3M568.8 343.5V251.9M569.8 266.9V169.7M570.9 359.2V218.2M571.9 355.4V168.7M572.9 376.7V253.0M574.0 373.0V248.4M575.0 340.2V294.8M576.0 352.5V284.6M577.0 365.8V257.8M578.1 391.0V260.3M579.1 378.0V215.1M580.1 333.4V244.6M581.2 316.6V247.3M582.2 375.3V257.0M583.2 306.4V202.4M584.2 351.5V226.5M585.3 360.3V276.9M586.3 298.8V226.1M587.3 318.3V242.9M588.4 348.4V265.6M589.4 381.6V243.8M590.4 338.5V240.3M591.4 419.5V205.6M592.5 437.9V184.2M593.5 387.3V253.7M594.5 354.4V254.5M595.6 368.7V247.3M596.6 294.4V199.5M597.6 304.5V251.2M598.6 290.2V234.0M599.7 294.5V201.9M600.7 377.4V220.2M601.7 300.8V220.7M602.8 333.9V271.4M603.8 377.5V247.8M604.8 379.2V257.3M605.8 336.7V277.8M606.9 360.8V161.2M607.9 320.3V251.8M608.9 389.6V240.1M610.0 385.2V252.2M611.0 371.9V306.0M612.0 379.3V310.2M613.0 394.7V322.5M614.1 343.9V297.0M615.1 414.8V316.1M616.1 446.0V365.6M617.1 437.5V412.5M618.2 443.9V412.5M619.2 426.8V403.5M620.2 454.7V425.6M621.3 455.7V423.2M622.3 470.8V434.9M623.3 481.2V428.8M624.3 481.2V456.1M625.4 481.2V458.5M626.4 481.2V444.2M627.4 481.2V447.0M628.5 481.2V456.4M629.5 481.2V451.0M630.5 481.2V463.2M631.5 481.2V450.4M632.6 477.1V449.2M633.6 481.2V433.1M634.6 481.2V452.4M635.7 476.4V458.8M636.7 481.2V456.3M637.7 479.8V442.0M638.7 481.2V448.0M639.8 462.1V447.1M640.8 481.2V439.0M641.8 472.3V440.2M642.9 470.5V423.7M643.9 458.4V425.8M644.9 481.2V413.3M645.9 454.9V429.0M647.0 472.5V396.1M648.0 439.2V414.6M649.0 458.3V390.4M650.1 479.4V415.0M651.1 461.2V418.2M652.1 463.8V435.9M653.1 464.9V411.6M654.2 477.4V435.2M655.2 466.7V447.1M656.2 457.9V439.2M657.3 462.1V436.9M658.3 470.8V445.8M659.3 481.2V434.8M660.3 475.3V440.7M661.4 465.5V432.2M662.4 476.8V453.8M663.4 481.2V452.3M664.5 470.1V445.5M665.5 481.2V461.7M666.5 475.1V458.9M667.5 481.2V452.7M668.6 481.2V464.0M669.6 465.0V450.5M670.6 481.2V460.3M671.7 481.2V466.1M672.7 481.2V453.5M673.7 481.2V467.8M674.7 481.2V461.4M675.8 481.2V453.5M676.8 481.2V460.8M677.8 481.1V469.7M678.9 481.2V468.4M679.9 481.2V475.4M680.9 481.2V474.4M681.9 481.2V471.9M683.0 481.2V470.1M684.0 481.2V473.2M685.0 481.2V474.1M686.1 480.6V475.4M687.1 481.2V472.0M688.1 481.2V472.8M689.1 480.1V474.5M690.2 481.2V473.9M691.2 481.2V475.2M692.2 481.2V471.9M693.2 481.2V473.7M694.3 481.2V470.1M695.3 481.2V469.7M696.3 481.2V471.1M697.4 481.2V470.1M698.4 481.2V471.0M699.4 481.2V468.9M700.4 481.2V473.7M701.5 481.2V444.2M702.5 481.2V431.6M703.5 481.2V455.8M704.6 477.7V448.7M705.6 462.4V433.5M706.6 481.2V426.9M707.6 481.2V459.2M708.7 475.5V453.7M709.7 480.4V432.0M710.7 481.2V447.2M711.8 470.1V451.5M712.8 473.2V455.2M713.8 456.7V426.7M714.8 481.2V462.8M715.9 481.2V433.9M716.9 448.3V421.6M717.9 449.6V428.4M719.0 460.5V433.5M720.0 450.6V435.8M721.0 468.6V418.6M722.0 455.2V428.5M723.1 475.4V418.7M724.1 465.8V433.7M725.1 476.9V424.2M726.2 473.7V439.4M727.2 481.2V445.0M728.2 472.2V455.9M729.2 477.1V454.2M730.3 480.3V454.9M731.3 481.2V450.8" stroke="#7f7f7f" stroke-width="1.54" fill="none"/>
<polyline points="115.3,447.6 116.3,423.1 117.4,425.1 118.4,396.7 119.4,400.9 120.4,383.6 121.5,393.8 122.5,378.7 123.5,361.8 124.6,357.7 125.6,351.8 126.6,377.9 127.6,335.6 128.7,372.6 129.7,308.6 130.7,348.7 131.8,358.9 132.8,287.3 133.8,300.8 134.8,316.0 135.9,304.1 136.9,271.4 137.9,319.5 139.0,298.6 140.0,231.0 141.0,278.2 142.0,249.1 143.1,246.6 144.1,228.5 145.1,230.8 146.2,328.6 147.2,250.9 148.2,209.3 149.2,268.8 150.3,187.0 151.3,225.6 152.3,269.9 153.4,223.9 154.4,185.4 155.4,268.0 156.4,224.1 157.5,266.5 158.5,257.4 159.5,252.3 160.5,226.9 161.6,230.7 162.6,234.9 163.6,197.6 164.7,291.8 165.7,299.8 166.7,242.4 167.7,249.5 168.8,301.3 169.8,218.7 170.8,295.8 171.9,321.7 172.9,273.4 173.9,280.7 174.9,256.5 176.0,352.3 177.0,317.0 178.0,324.9 179.1,331.3 180.1,340.3 181.1,349.6 182.1,362.8 183.2,346.0 184.2,330.4 185.2,346.7 186.3,366.5 187.3,351.1 188.3,368.7 189.3,381.7 190.4,395.8 191.4,388.4 192.4,368.8 193.5,382.8 194.5,402.0 195.5,383.8 196.5,399.5 197.6,380.1 198.6,418.6 199.6,414.2 200.7,410.1 201.7,399.3 202.7,418.5 203.7,428.7 204.8,437.3 205.8,432.6 206.8,429.2 207.9,433.4 208.9,420.9 209.9,424.8 210.9,443.0 212.0,447.5 213.0,450.9 214.0,435.7 215.1,452.3 216.1,451.0 217.1,438.7 218.1,453.4 219.2,456.5 220.2,463.0 221.2,440.5 222.3,447.0 223.3,461.3 224.3,461.4 225.3,456.0 226.4,454.1 227.4,455.9 228.4,459.9 229.5,455.8 230.5,457.4 231.5,454.3 232.5,468.5 233.6,473.3 234.6,474.2 235.6,458.9 236.6,477.3 237.7,479.8 238.7,479.7 239.7,462.3 240.8,445.2 241.8,457.4 242.8,439.4 243.8,420.2 244.9,408.3 245.9,414.6 246.9,418.2 248.0,407.3 249.0,376.2 250.0,361.5 251.0,351.0 252.1,338.8 253.1,337.6 254.1,372.4 255.2,309.8 256.2,289.4 257.2,301.7 258.2,315.4 259.3,297.3 260.3,277.7 261.3,245.8 262.4,254.0 263.4,266.1 264.4,285.1 265.4,320.4 266.5,292.9 267.5,322.7 268.5,283.1 269.6,265.2 270.6,269.5 271.6,265.4 272.6,301.0 273.7,265.2 274.7,305.9 275.7,334.4 276.8,298.0 277.8,302.8 278.8,349.3 279.8,310.2 280.9,350.4 281.9,321.6 282.9,264.5 284.0,318.2 285.0,285.6 286.0,288.6 287.0,326.7 288.1,336.4 289.1,315.2 290.1,283.6 291.2,341.7 292.2,322.0 293.2,289.3 294.2,337.6 295.3,300.7 296.3,351.7 297.3,332.5 298.4,306.4 299.4,349.0 300.4,344.1 301.4,340.7 302.5,326.5 303.5,353.0 304.5,327.8 305.6,307.3 306.6,284.7 307.6,333.5 308.6,301.4 309.7,299.3 310.7,342.7 311.7,317.4 312.7,302.6 313.8,294.3 314.8,318.9 315.8,345.8 316.9,326.5 317.9,329.9 318.9,332.7 319.9,336.5 321.0,309.8 322.0,370.3 323.0,351.8 324.1,364.4 325.1,333.2 326.1,326.8 327.1,331.5 328.2,341.9 329.2,359.5 330.2,331.3 331.3,343.9 332.3,335.6 333.3,339.1 334.3,357.2 335.4,352.2 336.4,341.3 337.4,369.9 338.5,357.4 339.5,379.2 340.5,348.1 341.5,367.2 342.6,348.4 343.6,330.4 344.6,372.3 345.7,364.7 346.7,338.9 347.7,299.7 348.7,323.5 349.8,327.6 350.8,336.9 351.8,335.1 352.9,326.5 353.9,308.7 354.9,312.9 355.9,325.2 357.0,342.7 358.0,336.2 359.0,325.3 360.1,345.2 361.1,322.3 362.1,362.4 363.1,344.5 364.2,349.1 365.2,340.3 366.2,366.1 367.3,351.2 368.3,386.2 369.3,395.2 370.3,386.7 371.4,401.5 372.4,400.7 373.4,420.9 374.5,396.9 375.5,406.4 376.5,429.1 377.5,441.6 378.6,418.7 379.6,425.6 380.6,415.2 381.7,412.5 382.7,432.9 383.7,439.5 384.7,443.0 385.8,449.4 386.8,461.2 387.8,476.0 388.8,453.2 389.9,461.1 390.9,466.7 391.9,464.6 393.0,464.1 394.0,464.2 395.0,470.6 396.0,476.2 397.1,471.4 398.1,477.6 399.1,478.3 400.2,478.3 401.2,478.7 402.2,479.0 403.2,478.6 404.3,460.8 405.3,477.6 406.3,475.1 407.4,477.1 408.4,464.4 409.4,474.2 410.4,480.2 411.5,464.0 412.5,460.2 413.5,460.7 414.6,459.2 415.6,462.1 416.6,458.9 417.6,450.3 418.7,456.0 419.7,452.6 420.7,452.8 421.8,450.3 422.8,446.6 423.8,455.3 424.8,437.9 425.9,453.0 426.9,452.7 427.9,466.8 429.0,458.9 430.0,461.7 431.0,454.8 432.0,468.8 433.1,465.8 434.1,465.8 435.1,473.9 436.2,464.6 437.2,473.6 438.2,476.3 439.2,471.1 440.3,481.2 441.3,476.7 442.3,478.3 443.4,479.4 444.4,479.4 445.4,478.7 446.4,478.9 447.5,478.8 448.5,478.6 449.5,477.6 450.6,478.0 451.6,478.0 452.6,477.9 453.6,477.9 454.7,467.5 455.7,460.3 456.7,480.1 457.8,450.9 458.8,456.5 459.8,441.3 460.8,449.3 461.9,437.7 462.9,425.5 463.9,436.4 464.9,437.2 466.0,467.5 467.0,469.2 468.0,478.3 469.1,471.8 470.1,476.9 471.1,469.6 472.1,467.1 473.2,466.5 474.2,464.5 475.2,460.8 476.3,465.1 477.3,462.5 478.3,458.8 479.3,440.7 480.4,457.6 481.4,463.7 482.4,473.2 483.5,474.4 484.5,478.7 485.5,469.5 486.5,459.6 487.6,434.8 488.6,427.3 489.6,383.7 490.7,370.8 491.7,312.6 492.7,356.4 493.7,277.1 494.8,256.2 495.8,245.8 496.8,289.8 497.9,217.6 498.9,208.9 499.9,217.2 500.9,246.3 502.0,251.5 503.0,192.2 504.0,219.3 505.1,231.9 506.1,244.4 507.1,201.3 508.1,251.3 509.2,204.2 510.2,215.9 511.2,262.7 512.3,208.3 513.3,183.4 514.3,223.9 515.3,256.2 516.4,236.6 517.4,199.1 518.4,268.7 519.5,237.3 520.5,178.6 521.5,229.8 522.5,243.9 523.6,193.3 524.6,159.1 525.6,194.7 526.7,249.0 527.7,266.3 528.7,222.0 529.7,271.4 530.8,213.8 531.8,185.8 532.8,312.0 533.9,237.5 534.9,224.2 535.9,246.7 536.9,225.8 538.0,219.9 539.0,186.2 540.0,135.2 541.0,213.0 542.1,248.0 543.1,246.9 544.1,267.7 545.2,203.7 546.2,235.2 547.2,227.8 548.2,234.0 549.3,193.1 550.3,216.0 551.3,240.6 552.4,286.9 553.4,272.7 554.4,287.5 555.4,270.6 556.5,248.3 557.5,283.7 558.5,272.5 559.6,192.1 560.6,253.8 561.6,276.4 562.6,283.7 563.7,243.1 564.7,217.4 565.7,239.7 566.8,228.8 567.8,241.7 568.8,295.8 569.8,231.5 570.9,285.5 571.9,233.6 572.9,306.0 574.0,301.5 575.0,318.7 576.0,320.7 577.0,302.7 578.1,328.9 579.1,288.7 580.1,295.4 581.2,280.0 582.2,314.6 583.2,271.1 584.2,290.1 585.3,315.0 586.3,259.5 587.3,278.5 588.4,299.1 589.4,313.3 590.4,295.0 591.4,298.0 592.5,271.9 593.5,323.9 594.5,293.3 595.6,309.6 596.6,257.4 597.6,281.4 598.6,265.7 599.7,240.2 600.7,297.5 601.7,264.0 602.8,302.0 603.8,299.2 604.8,318.9 605.8,310.4 606.9,255.6 607.9,290.3 608.9,309.2 610.0,308.8 611.0,338.0 612.0,346.9 613.0,358.0 614.1,325.3 615.1,354.0 616.1,392.1 617.1,425.0 618.2,432.9 619.2,416.3 620.2,443.3 621.3,443.9 622.3,453.2 623.3,456.1 624.3,474.6 625.4,474.3 626.4,478.1 627.4,471.5 628.5,474.4 629.5,469.9 630.5,479.5 631.5,469.7 632.6,462.5 633.6,467.9 634.6,481.2 635.7,467.3 636.7,469.5 637.7,460.2 638.7,462.7 639.8,455.8 640.8,462.5 641.8,452.3 642.9,447.0 643.9,447.3 644.9,444.6 645.9,442.4 647.0,430.6 648.0,426.4 649.0,421.2 650.1,441.3 651.1,439.2 652.1,448.2 653.1,443.4 654.2,459.1 655.2,457.1 656.2,446.3 657.3,451.0 658.3,458.9 659.3,457.6 660.3,459.4 661.4,452.0 662.4,468.6 663.4,477.0 664.5,459.9 665.5,472.0 666.5,466.4 667.5,473.7 668.6,478.1 669.6,460.0 670.6,473.1 671.7,481.2 672.7,475.7 673.7,476.0 674.7,476.4 675.8,475.9 676.8,481.2 677.8,476.6 678.9,478.2 679.9,479.2 680.9,478.6 681.9,479.4 683.0,479.2 684.0,479.0 685.0,478.7 686.1,478.8 687.1,478.4 688.1,478.6 689.1,478.0 690.2,478.2 691.2,478.8 692.2,478.1 693.2,478.5 694.3,478.0 695.3,477.8 696.3,476.8 697.4,477.7 698.4,478.3 699.4,477.4 700.4,477.9 701.5,465.1 702.5,462.6 703.5,476.9 704.6,463.1 705.6,451.7 706.6,457.6 707.6,473.7 708.7,466.9 709.7,454.7 710.7,461.7 711.8,461.0 712.8,464.6 713.8,443.2 714.8,475.9 715.9,461.3 716.9,434.8 717.9,438.4 719.0,445.9 720.0,446.3 721.0,443.1 722.0,440.8 723.1,446.2 724.1,453.3 725.1,453.7 726.2,454.9 727.2,466.6 728.2,463.5 729.2,467.6 730.3,467.1 731.3,474.7" fill="none" stroke="#000" stroke-width="2.3" stroke-linejoin="bevel"/>
<line x1="115.3" y1="97.6" x2="115.3" y2="482.0" stroke="#000" stroke-width="1.6"/>
<line x1="108.3" y1="481.2" x2="115.3" y2="481.2" stroke="#000" stroke-width="1.6"/>
<text x="104.8" y="490.2" font-size="23" text-anchor="end" fill="#000">0</text>
<line x1="108.3" y1="385.5" x2="115.3" y2="385.5" stroke="#000" stroke-width="1.6"/>
<text x="104.8" y="394.5" font-size="23" text-anchor="end" fill="#000">50</text>
<line x1="108.3" y1="289.8" x2="115.3" y2="289.8" stroke="#000" stroke-width="1.6"/>
<text x="104.8" y="298.8" font-size="23" text-anchor="end" fill="#000">100</text>
<line x1="108.3" y1="194.1" x2="115.3" y2="194.1" stroke="#000" stroke-width="1.6"/>
<text x="104.8" y="203.1" font-size="23" text-anchor="end" fill="#000">150</text>
<line x1="108.3" y1="98.4" x2="115.3" y2="98.4" stroke="#000" stroke-width="1.6"/>
<text x="104.8" y="107.4" font-size="23" text-anchor="end" fill="#000">200</text>
<line x1="115.3" y1="482.2" x2="731.3" y2="482.2" stroke="#000" stroke-width="1.6"/>
<line x1="115.3" y1="482.2" x2="115.3" y2="488.5" stroke="#000" stroke-width="1.6"/>
<text x="115.3" y="510.0" font-size="23" text-anchor="middle" fill="#000">0</text>
<line x1="238.5" y1="482.2" x2="238.5" y2="488.5" stroke="#000" stroke-width="1.6"/>
<text x="238.5" y="510.0" font-size="23" text-anchor="middle" fill="#000">12</text>
<line x1="361.7" y1="482.2" x2="361.7" y2="488.5" stroke="#000" stroke-width="1.6"/>
<text x="361.7" y="510.0" font-size="23" text-anchor="middle" fill="#000">24</text>
<line x1="484.9" y1="482.2" x2="484.9" y2="488.5" stroke="#000" stroke-width="1.6"/>
<text x="484.9" y="510.0" font-size="23" text-anchor="middle" fill="#000">36</text>
<line x1="608.1" y1="482.2" x2="608.1" y2="488.5" stroke="#000" stroke-width="1.6"/>
<text x="608.1" y="510.0" font-size="23" text-anchor="middle" fill="#000">48</text>
<line x1="731.3" y1="482.2" x2="731.3" y2="488.5" stroke="#000" stroke-width="1.6"/>
<text x="731.3" y="510.0" font-size="23" text-anchor="middle" fill="#000">60</text>
<text x="424.5" y="538.0" font-size="24.3" text-anchor="middle" fill="#000">Time (h)</text>
<text x="57.5" y="283.6" font-size="23.5" text-anchor="middle" fill="#000" transform="rotate(-90 57.5 283.6)">Revolutions</text>
<line x1="638.8" y1="134.7" x2="658.2" y2="134.7" stroke="#000" stroke-width="1.6"/>
<text x="666.3" y="144.5" font-size="27.5" text-anchor="start" fill="#000" class="ti">WT</text>
<line x1="638.8" y1="182.7" x2="658.2" y2="182.7" stroke="#5a9cf0" stroke-width="1.6"/>
<text x="666.3" y="192.5" font-size="27.5" text-anchor="start" fill="#000" class="ti">NAc-D3RcKO</text>
<line x1="638.8" y1="233.7" x2="658.2" y2="233.7" stroke="#3ee61c" stroke-width="1.6"/>
<text x="666.3" y="243.5" font-size="27.5" text-anchor="start" fill="#000" class="ti">NAc-D1RcKO</text>
<line x1="950.4" y1="61.0" x2="950.4" y2="478.8" stroke="#000" stroke-width="1.6"/>
<line x1="939.4" y1="478.0" x2="950.4" y2="478.0" stroke="#000" stroke-width="1.6"/>
<text x="936.4" y="486.2" font-size="23.5" text-anchor="end" fill="#000">0</text>
<line x1="939.4" y1="373.9" x2="950.4" y2="373.9" stroke="#000" stroke-width="1.6"/>
<text x="936.4" y="382.1" font-size="23.5" text-anchor="end" fill="#000">2</text>
<line x1="939.4" y1="269.9" x2="950.4" y2="269.9" stroke="#000" stroke-width="1.6"/>
<text x="936.4" y="278.1" font-size="23.5" text-anchor="end" fill="#000">4</text>
<line x1="939.4" y1="165.9" x2="950.4" y2="165.9" stroke="#000" stroke-width="1.6"/>
<text x="936.4" y="174.1" font-size="23.5" text-anchor="end" fill="#000">6</text>
<line x1="939.4" y1="61.8" x2="950.4" y2="61.8" stroke="#000" stroke-width="1.6"/>
<text x="936.4" y="70.0" font-size="23.5" text-anchor="end" fill="#000">8</text>
<line x1="950.4" y1="478.0" x2="1229.0" y2="478.0" stroke="#000" stroke-width="1.6"/>
<rect x="977.7" y="283.9" width="54.3" height="194.1" fill="#fff" stroke="#000" stroke-width="1.8"/>
<rect x="1061.8" y="327.6" width="54.0" height="150.4" fill="#96c3f7" stroke="#000" stroke-width="1.8"/>
<rect x="1144.9" y="308.9" width="54.1" height="169.1" fill="#aefeab" stroke="#000" stroke-width="1.8"/>
<line x1="1004.7" y1="478.0" x2="1004.7" y2="488.4" stroke="#000" stroke-width="1.6"/>
<line x1="1087.9" y1="478.0" x2="1087.9" y2="488.4" stroke="#000" stroke-width="1.6"/>
<line x1="1171.0" y1="478.0" x2="1171.0" y2="488.4" stroke="#000" stroke-width="1.6"/>
<line x1="1004.7" y1="262.8" x2="1004.7" y2="304.3" stroke="#000" stroke-width="1.6"/>
<line x1="1087.9" y1="307.3" x2="1087.9" y2="345.9" stroke="#000" stroke-width="1.6"/>
<line x1="1171.0" y1="289.5" x2="1171.0" y2="326.6" stroke="#000" stroke-width="1.6"/>
<circle cx="1004.7" cy="156.5" r="3.9" fill="#fff" stroke="#000" stroke-width="1.9"/>
<circle cx="1004.7" cy="194.5" r="3.9" fill="#fff" stroke="#000" stroke-width="1.9"/>
<circle cx="1004.7" cy="207.0" r="3.9" fill="#fff" stroke="#000" stroke-width="1.9"/>
<circle cx="1004.7" cy="248.8" r="3.9" fill="#fff" stroke="#000" stroke-width="1.9"/>
<circle cx="1013.4" cy="307.3" r="3.9" fill="#fff" stroke="#000" stroke-width="1.9"/>
<circle cx="995.8" cy="313.8" r="3.9" fill="#fff" stroke="#000" stroke-width="1.9"/>
<circle cx="995.8" cy="322.0" r="3.9" fill="#fff" stroke="#000" stroke-width="1.9"/>
<circle cx="1013.4" cy="325.0" r="3.9" fill="#fff" stroke="#000" stroke-width="1.9"/>
<circle cx="995.8" cy="337.6" r="3.9" fill="#fff" stroke="#000" stroke-width="1.9"/>
<circle cx="1013.4" cy="342.0" r="3.9" fill="#fff" stroke="#000" stroke-width="1.9"/>
<circle cx="1004.7" cy="366.7" r="3.9" fill="#fff" stroke="#000" stroke-width="1.9"/>
<circle cx="1087.9" cy="228.6" r="3.9" fill="#fff" stroke="#000" stroke-width="1.9"/>
<circle cx="1087.9" cy="237.5" r="3.9" fill="#fff" stroke="#000" stroke-width="1.9"/>
<circle cx="1079.6" cy="265.7" r="3.9" fill="#fff" stroke="#000" stroke-width="1.9"/>
<circle cx="1096.8" cy="262.8" r="3.9" fill="#fff" stroke="#000" stroke-width="1.9"/>
<circle cx="1087.9" cy="303.7" r="3.9" fill="#fff" stroke="#000" stroke-width="1.9"/>
<circle cx="1087.9" cy="322.7" r="3.9" fill="#fff" stroke="#000" stroke-width="1.9"/>
<circle cx="1071.6" cy="360.2" r="3.9" fill="#fff" stroke="#000" stroke-width="1.9"/>
<circle cx="1087.9" cy="362.2" r="3.9" fill="#fff" stroke="#000" stroke-width="1.9"/>
<circle cx="1105.0" cy="361.6" r="3.9" fill="#fff" stroke="#000" stroke-width="1.9"/>
<circle cx="1087.9" cy="372.0" r="3.9" fill="#fff" stroke="#000" stroke-width="1.9"/>
<circle cx="1087.9" cy="394.9" r="3.9" fill="#fff" stroke="#000" stroke-width="1.9"/>
<circle cx="1087.9" cy="447.7" r="3.9" fill="#fff" stroke="#000" stroke-width="1.9"/>
<circle cx="1171.0" cy="222.7" r="3.9" fill="#fff" stroke="#000" stroke-width="1.9"/>
<circle cx="1171.0" cy="250.3" r="3.9" fill="#fff" stroke="#000" stroke-width="1.9"/>
<circle cx="1171.0" cy="271.0" r="3.9" fill="#fff" stroke="#000" stroke-width="1.9"/>
<circle cx="1171.0" cy="288.6" r="3.9" fill="#fff" stroke="#000" stroke-width="1.9"/>
<circle cx="1171.0" cy="322.7" r="3.9" fill="#fff" stroke="#000" stroke-width="1.9"/>
<circle cx="1171.0" cy="337.6" r="3.9" fill="#fff" stroke="#000" stroke-width="1.9"/>
<circle cx="1171.0" cy="377.0" r="3.9" fill="#fff" stroke="#000" stroke-width="1.9"/>
<circle cx="1171.0" cy="389.5" r="3.9" fill="#fff" stroke="#000" stroke-width="1.9"/>
<text x="1004.7" y="512.5" font-size="24" text-anchor="middle" fill="#000">WT</text>
<text x="1083.5" y="512.5" font-size="24" text-anchor="middle" fill="#000">NAc</text>
<text x="1083.5" y="539.5" font-size="24" text-anchor="middle" fill="#000">D3RcKO</text>
<text x="1184.0" y="512.5" font-size="24" text-anchor="middle" fill="#000">NAc</text>
<text x="1184.0" y="539.5" font-size="24" text-anchor="middle" fill="#000">D1RcKO</text>
<text x="902.5" y="269.0" font-size="23.4" text-anchor="middle" fill="#000" transform="rotate(-90 902.5 269.0)">Revolutions (X10000)</text>
<text x="1271.5" y="55.5" font-size="47" text-anchor="start" font-weight="bold" fill="#000">b</text>
<text x="1763.0" y="24.0" font-size="27.6" text-anchor="middle" fill="#000" class="ti">Sucrose preference</text>
<line x1="1389.0" y1="37.8" x2="2124.5" y2="37.8" stroke="#000" stroke-width="1.6"/>
<line x1="1389.7" y1="62.7" x2="1389.7" y2="487.5" stroke="#000" stroke-width="1.6"/>
<line x1="1378.7" y1="486.7" x2="1389.7" y2="486.7" stroke="#000" stroke-width="1.6"/>
<text x="1375.7" y="494.9" font-size="23.5" text-anchor="end" fill="#000">0</text>
<line x1="1378.7" y1="402.1" x2="1389.7" y2="402.1" stroke="#000" stroke-width="1.6"/>
<text x="1375.7" y="410.3" font-size="23.5" text-anchor="end" fill="#000">20</text>
<line x1="1378.7" y1="317.4" x2="1389.7" y2="317.4" stroke="#000" stroke-width="1.6"/>
<text x="1375.7" y="325.6" font-size="23.5" text-anchor="end" fill="#000">40</text>
<line x1="1378.7" y1="232.8" x2="1389.7" y2="232.8" stroke="#000" stroke-width="1.6"/>
<text x="1375.7" y="241.0" font-size="23.5" text-anchor="end" fill="#000">60</text>
<line x1="1378.7" y1="148.1" x2="1389.7" y2="148.1" stroke="#000" stroke-width="1.6"/>
<text x="1375.7" y="156.3" font-size="23.5" text-anchor="end" fill="#000">80</text>
<line x1="1378.7" y1="63.5" x2="1389.7" y2="63.5" stroke="#000" stroke-width="1.6"/>
<text x="1375.7" y="71.7" font-size="23.5" text-anchor="end" fill="#000">100</text>
<line x1="1389.7" y1="486.7" x2="1671.7" y2="486.7" stroke="#000" stroke-width="1.6"/>
<rect x="1418.0" y="168.4" width="54.8" height="318.3" fill="#fff" stroke="#000" stroke-width="1.8"/>
<rect x="1502.4" y="227.3" width="55.0" height="259.4" fill="#96c3f7" stroke="#000" stroke-width="1.8"/>
<rect x="1587.0" y="185.3" width="55.4" height="301.4" fill="#aefeab" stroke="#000" stroke-width="1.8"/>
<line x1="1445.0" y1="486.7" x2="1445.0" y2="497.0" stroke="#000" stroke-width="1.6"/>
<line x1="1529.6" y1="486.7" x2="1529.6" y2="497.0" stroke="#000" stroke-width="1.6"/>
<line x1="1614.9" y1="486.7" x2="1614.9" y2="497.0" stroke="#000" stroke-width="1.6"/>
<line x1="1445.0" y1="151.0" x2="1445.0" y2="181.0" stroke="#000" stroke-width="1.6"/>
<line x1="1529.6" y1="199.5" x2="1529.6" y2="244.9" stroke="#000" stroke-width="1.6"/>
<line x1="1614.9" y1="163.0" x2="1614.9" y2="208.6" stroke="#000" stroke-width="1.6"/>
<circle cx="1445.0" cy="78.0" r="3.9" fill="#fff" stroke="#000" stroke-width="1.9"/>
<circle cx="1421.4" cy="115.2" r="3.9" fill="#fff" stroke="#000" stroke-width="1.9"/>
<circle cx="1436.8" cy="113.7" r="3.9" fill="#fff" stroke="#000" stroke-width="1.9"/>
<circle cx="1453.1" cy="121.2" r="3.9" fill="#fff" stroke="#000" stroke-width="1.9"/>
<circle cx="1469.2" cy="120.6" r="3.9" fill="#fff" stroke="#000" stroke-width="1.9"/>
<circle cx="1436.8" cy="188.0" r="3.9" fill="#fff" stroke="#000" stroke-width="1.9"/>
<circle cx="1453.1" cy="186.8" r="3.9" fill="#fff" stroke="#000" stroke-width="1.9"/>
<circle cx="1453.1" cy="197.4" r="3.9" fill="#fff" stroke="#000" stroke-width="1.9"/>
<circle cx="1469.8" cy="191.4" r="3.9" fill="#fff" stroke="#000" stroke-width="1.9"/>
<circle cx="1445.6" cy="209.8" r="3.9" fill="#fff" stroke="#000" stroke-width="1.9"/>
<circle cx="1445.6" cy="223.1" r="3.9" fill="#fff" stroke="#000" stroke-width="1.9"/>
<circle cx="1445.6" cy="260.3" r="3.9" fill="#fff" stroke="#000" stroke-width="1.9"/>
<circle cx="1530.2" cy="149.3" r="3.9" fill="#fff" stroke="#000" stroke-width="1.9"/>
<circle cx="1530.2" cy="169.6" r="3.9" fill="#fff" stroke="#000" stroke-width="1.9"/>
<circle cx="1513.0" cy="184.4" r="3.9" fill="#fff" stroke="#000" stroke-width="1.9"/>
<circle cx="1530.2" cy="186.5" r="3.9" fill="#fff" stroke="#000" stroke-width="1.9"/>
<circle cx="1547.8" cy="181.4" r="3.9" fill="#fff" stroke="#000" stroke-width="1.9"/>
<circle cx="1513.0" cy="196.5" r="3.9" fill="#fff" stroke="#000" stroke-width="1.9"/>
<circle cx="1513.0" cy="205.6" r="3.9" fill="#fff" stroke="#000" stroke-width="1.9"/>
<circle cx="1530.2" cy="201.6" r="3.9" fill="#fff" stroke="#000" stroke-width="1.9"/>
<circle cx="1547.8" cy="205.6" r="3.9" fill="#fff" stroke="#000" stroke-width="1.9"/>
<circle cx="1530.2" cy="248.5" r="3.9" fill="#fff" stroke="#000" stroke-width="1.9"/>
<circle cx="1530.2" cy="283.3" r="3.9" fill="#fff" stroke="#000" stroke-width="1.9"/>
<circle cx="1530.2" cy="361.2" r="3.9" fill="#fff" stroke="#000" stroke-width="1.9"/>
<circle cx="1530.2" cy="375.5" r="3.9" fill="#fff" stroke="#000" stroke-width="1.9"/>
<circle cx="1614.9" cy="109.7" r="3.9" fill="#fff" stroke="#000" stroke-width="1.9"/>
<circle cx="1606.1" cy="138.2" r="3.9" fill="#fff" stroke="#000" stroke-width="1.9"/>
<circle cx="1623.6" cy="131.2" r="3.9" fill="#fff" stroke="#000" stroke-width="1.9"/>
<circle cx="1614.9" cy="207.0" r="3.9" fill="#fff" stroke="#000" stroke-width="1.9"/>
<circle cx="1606.1" cy="225.8" r="3.9" fill="#fff" stroke="#000" stroke-width="1.9"/>
<circle cx="1623.6" cy="230.4" r="3.9" fill="#fff" stroke="#000" stroke-width="1.9"/>
<circle cx="1614.9" cy="253.3" r="3.9" fill="#fff" stroke="#000" stroke-width="1.9"/>
<text x="1445.0" y="523.0" font-size="24" text-anchor="middle" fill="#000">WT</text>
<text x="1522.0" y="523.0" font-size="24" text-anchor="middle" fill="#000">NAc</text>
<text x="1521.5" y="552.0" font-size="24" text-anchor="middle" fill="#000">D3RcKO</text>
<text x="1628.0" y="523.0" font-size="24" text-anchor="middle" fill="#000">NAc</text>
<text x="1627.0" y="552.0" font-size="24" text-anchor="middle" fill="#000">D1RcKO</text>
<text x="1320.0" y="273.5" font-size="24" text-anchor="middle" fill="#000" transform="rotate(-90 1320.0 273.5)">Sucrose Preference (%)</text>
<line x1="1826.8" y1="58.2" x2="1826.8" y2="483.6" stroke="#000" stroke-width="1.6"/>
<line x1="1815.8" y1="482.8" x2="1826.8" y2="482.8" stroke="#000" stroke-width="1.6"/>
<text x="1812.8" y="491.0" font-size="23.5" text-anchor="end" fill="#000">0</text>
<line x1="1815.8" y1="398.0" x2="1826.8" y2="398.0" stroke="#000" stroke-width="1.6"/>
<text x="1812.8" y="406.2" font-size="23.5" text-anchor="end" fill="#000">1</text>
<line x1="1815.8" y1="313.3" x2="1826.8" y2="313.3" stroke="#000" stroke-width="1.6"/>
<text x="1812.8" y="321.5" font-size="23.5" text-anchor="end" fill="#000">2</text>
<line x1="1815.8" y1="228.5" x2="1826.8" y2="228.5" stroke="#000" stroke-width="1.6"/>
<text x="1812.8" y="236.7" font-size="23.5" text-anchor="end" fill="#000">3</text>
<line x1="1815.8" y1="143.8" x2="1826.8" y2="143.8" stroke="#000" stroke-width="1.6"/>
<text x="1812.8" y="152.0" font-size="23.5" text-anchor="end" fill="#000">4</text>
<line x1="1815.8" y1="59.0" x2="1826.8" y2="59.0" stroke="#000" stroke-width="1.6"/>
<text x="1812.8" y="67.2" font-size="23.5" text-anchor="end" fill="#000">5</text>
<line x1="1826.8" y1="482.8" x2="2109.4" y2="482.8" stroke="#000" stroke-width="1.6"/>
<rect x="1855.5" y="301.7" width="55.0" height="181.1" fill="#fff" stroke="#000" stroke-width="1.8"/>
<rect x="1940.1" y="359.7" width="55.0" height="123.1" fill="#96c3f7" stroke="#000" stroke-width="1.8"/>
<rect x="2024.8" y="356.1" width="55.0" height="126.7" fill="#aefeab" stroke="#000" stroke-width="1.8"/>
<line x1="1883.0" y1="482.8" x2="1883.0" y2="493.0" stroke="#000" stroke-width="1.6"/>
<line x1="1967.6" y1="482.8" x2="1967.6" y2="493.0" stroke="#000" stroke-width="1.6"/>
<line x1="2052.3" y1="482.8" x2="2052.3" y2="493.0" stroke="#000" stroke-width="1.6"/>
<line x1="1883.0" y1="278.0" x2="1883.0" y2="325.0" stroke="#000" stroke-width="1.6"/>
<line x1="1967.6" y1="343.0" x2="1967.6" y2="371.8" stroke="#000" stroke-width="1.6"/>
<line x1="2052.3" y1="343.0" x2="2052.3" y2="368.8" stroke="#000" stroke-width="1.6"/>
<circle cx="1883.0" cy="92.5" r="3.9" fill="#fff" stroke="#000" stroke-width="1.9"/>
<circle cx="1883.0" cy="227.0" r="3.9" fill="#fff" stroke="#000" stroke-width="1.9"/>
<circle cx="1883.0" cy="274.2" r="3.9" fill="#fff" stroke="#000" stroke-width="1.9"/>
<circle cx="1874.5" cy="286.0" r="3.9" fill="#fff" stroke="#000" stroke-width="1.9"/>
<circle cx="1891.7" cy="286.0" r="3.9" fill="#fff" stroke="#000" stroke-width="1.9"/>
<circle cx="1883.0" cy="312.9" r="3.9" fill="#fff" stroke="#000" stroke-width="1.9"/>
<circle cx="1891.7" cy="331.9" r="3.9" fill="#fff" stroke="#000" stroke-width="1.9"/>
<circle cx="1874.5" cy="340.0" r="3.9" fill="#fff" stroke="#000" stroke-width="1.9"/>
<circle cx="1891.7" cy="342.2" r="3.9" fill="#fff" stroke="#000" stroke-width="1.9"/>
<circle cx="1883.0" cy="360.3" r="3.9" fill="#fff" stroke="#000" stroke-width="1.9"/>
<circle cx="1883.0" cy="370.9" r="3.9" fill="#fff" stroke="#000" stroke-width="1.9"/>
<circle cx="1883.0" cy="389.7" r="3.9" fill="#fff" stroke="#000" stroke-width="1.9"/>
<circle cx="1967.6" cy="269.0" r="3.9" fill="#fff" stroke="#000" stroke-width="1.9"/>
<circle cx="1976.4" cy="297.8" r="3.9" fill="#fff" stroke="#000" stroke-width="1.9"/>
<circle cx="1959.2" cy="305.9" r="3.9" fill="#fff" stroke="#000" stroke-width="1.9"/>
<circle cx="1967.6" cy="315.9" r="3.9" fill="#fff" stroke="#000" stroke-width="1.9"/>
<circle cx="1959.2" cy="328.6" r="3.9" fill="#fff" stroke="#000" stroke-width="1.9"/>
<circle cx="1976.4" cy="337.0" r="3.9" fill="#fff" stroke="#000" stroke-width="1.9"/>
<circle cx="1959.2" cy="347.6" r="3.9" fill="#fff" stroke="#000" stroke-width="1.9"/>
<circle cx="1976.4" cy="353.0" r="3.9" fill="#fff" stroke="#000" stroke-width="1.9"/>
<circle cx="1967.6" cy="372.4" r="3.9" fill="#fff" stroke="#000" stroke-width="1.9"/>
<circle cx="1967.6" cy="414.1" r="3.9" fill="#fff" stroke="#000" stroke-width="1.9"/>
<circle cx="1967.6" cy="423.2" r="3.9" fill="#fff" stroke="#000" stroke-width="1.9"/>
<circle cx="1976.4" cy="449.5" r="3.9" fill="#fff" stroke="#000" stroke-width="1.9"/>
<circle cx="1959.2" cy="457.0" r="3.9" fill="#fff" stroke="#000" stroke-width="1.9"/>
<circle cx="2052.3" cy="297.8" r="3.9" fill="#fff" stroke="#000" stroke-width="1.9"/>
<circle cx="2043.5" cy="343.1" r="3.9" fill="#fff" stroke="#000" stroke-width="1.9"/>
<circle cx="2061.0" cy="342.2" r="3.9" fill="#fff" stroke="#000" stroke-width="1.9"/>
<circle cx="2035.0" cy="369.4" r="3.9" fill="#fff" stroke="#000" stroke-width="1.9"/>
<circle cx="2052.3" cy="372.4" r="3.9" fill="#fff" stroke="#000" stroke-width="1.9"/>
<circle cx="2069.8" cy="370.3" r="3.9" fill="#fff" stroke="#000" stroke-width="1.9"/>
<circle cx="2052.3" cy="391.5" r="3.9" fill="#fff" stroke="#000" stroke-width="1.9"/>
<text x="1883.0" y="519.0" font-size="24" text-anchor="middle" fill="#000">WT</text>
<text x="1957.5" y="519.0" font-size="24" text-anchor="middle" fill="#000">NAc</text>
<text x="1957.2" y="548.0" font-size="24" text-anchor="middle" fill="#000">D3RcKO</text>
<text x="2063.3" y="519.0" font-size="24" text-anchor="middle" fill="#000">NAc</text>
<text x="2062.0" y="548.0" font-size="24" text-anchor="middle" fill="#000">D1RcKO</text>
<text x="1782.0" y="266.0" font-size="24" text-anchor="middle" fill="#000" transform="rotate(-90 1782.0 266.0)">Total Consumption (g)</text>
<text x="0.0" y="652.0" font-size="47" text-anchor="start" font-weight="bold" fill="#000">c</text>
<text x="243.7" y="641.4" font-size="27.5" text-anchor="middle" fill="#000" class="ti">Sociability</text>
<line x1="92.3" y1="661.4" x2="377.0" y2="661.4" stroke="#000" stroke-width="1.6"/>
<line x1="93.9" y1="687.7" x2="93.9" y2="1113.1" stroke="#000" stroke-width="1.6"/>
<line x1="82.9" y1="1112.3" x2="93.9" y2="1112.3" stroke="#000" stroke-width="1.6"/>
<text x="79.9" y="1120.5" font-size="23.5" text-anchor="end" fill="#000">0</text>
<line x1="82.9" y1="1027.5" x2="93.9" y2="1027.5" stroke="#000" stroke-width="1.6"/>
<text x="79.9" y="1035.7" font-size="23.5" text-anchor="end" fill="#000">10</text>
<line x1="82.9" y1="942.8" x2="93.9" y2="942.8" stroke="#000" stroke-width="1.6"/>
<text x="79.9" y="951.0" font-size="23.5" text-anchor="end" fill="#000">20</text>
<line x1="82.9" y1="858.0" x2="93.9" y2="858.0" stroke="#000" stroke-width="1.6"/>
<text x="79.9" y="866.2" font-size="23.5" text-anchor="end" fill="#000">30</text>
<line x1="82.9" y1="773.3" x2="93.9" y2="773.3" stroke="#000" stroke-width="1.6"/>
<text x="79.9" y="781.5" font-size="23.5" text-anchor="end" fill="#000">40</text>
<line x1="82.9" y1="688.5" x2="93.9" y2="688.5" stroke="#000" stroke-width="1.6"/>
<text x="79.9" y="696.7" font-size="23.5" text-anchor="end" fill="#000">50</text>
<line x1="93.9" y1="1112.3" x2="377.0" y2="1112.3" stroke="#000" stroke-width="1.6"/>
<rect x="122.5" y="934.0" width="55.7" height="178.3" fill="#fff" stroke="#000" stroke-width="1.8"/>
<rect x="207.4" y="953.2" width="55.4" height="159.1" fill="#96c3f7" stroke="#000" stroke-width="1.8"/>
<rect x="292.0" y="950.6" width="55.8" height="161.7" fill="#aefeab" stroke="#000" stroke-width="1.8"/>
<line x1="149.5" y1="1112.3" x2="149.5" y2="1123.4" stroke="#000" stroke-width="1.6"/>
<line x1="234.5" y1="1112.3" x2="234.5" y2="1123.4" stroke="#000" stroke-width="1.6"/>
<line x1="319.1" y1="1112.3" x2="319.1" y2="1123.4" stroke="#000" stroke-width="1.6"/>
<line x1="149.5" y1="902.3" x2="149.5" y2="964.3" stroke="#000" stroke-width="1.6"/>
<line x1="234.5" y1="924.5" x2="234.5" y2="980.2" stroke="#000" stroke-width="1.6"/>
<line x1="319.1" y1="918.2" x2="319.1" y2="980.2" stroke="#000" stroke-width="1.6"/>
<circle cx="149.5" cy="736.8" r="3.9" fill="#fff" stroke="#000" stroke-width="1.9"/>
<circle cx="149.5" cy="747.0" r="3.9" fill="#fff" stroke="#000" stroke-width="1.9"/>
<circle cx="149.5" cy="812.5" r="3.9" fill="#fff" stroke="#000" stroke-width="1.9"/>
<circle cx="149.5" cy="945.2" r="3.9" fill="#fff" stroke="#000" stroke-width="1.9"/>
<circle cx="167.7" cy="969.7" r="3.9" fill="#fff" stroke="#000" stroke-width="1.9"/>
<circle cx="149.5" cy="977.0" r="3.9" fill="#fff" stroke="#000" stroke-width="1.9"/>
<circle cx="133.0" cy="994.5" r="3.9" fill="#fff" stroke="#000" stroke-width="1.9"/>
<circle cx="149.5" cy="992.0" r="3.9" fill="#fff" stroke="#000" stroke-width="1.9"/>
<circle cx="167.7" cy="992.0" r="3.9" fill="#fff" stroke="#000" stroke-width="1.9"/>
<circle cx="167.7" cy="1001.5" r="3.9" fill="#fff" stroke="#000" stroke-width="1.9"/>
<circle cx="149.5" cy="1005.7" r="3.9" fill="#fff" stroke="#000" stroke-width="1.9"/>
<circle cx="149.5" cy="1028.9" r="3.9" fill="#fff" stroke="#000" stroke-width="1.9"/>
<circle cx="234.5" cy="825.3" r="3.9" fill="#fff" stroke="#000" stroke-width="1.9"/>
<circle cx="234.5" cy="898.1" r="3.9" fill="#fff" stroke="#000" stroke-width="1.9"/>
<circle cx="226.2" cy="937.3" r="3.9" fill="#fff" stroke="#000" stroke-width="1.9"/>
<circle cx="244.0" cy="930.0" r="3.9" fill="#fff" stroke="#000" stroke-width="1.9"/>
<circle cx="244.0" cy="941.0" r="3.9" fill="#fff" stroke="#000" stroke-width="1.9"/>
<circle cx="234.5" cy="998.7" r="3.9" fill="#fff" stroke="#000" stroke-width="1.9"/>
<circle cx="234.5" cy="1033.3" r="3.9" fill="#fff" stroke="#000" stroke-width="1.9"/>
<circle cx="234.5" cy="1053.4" r="3.9" fill="#fff" stroke="#000" stroke-width="1.9"/>
<circle cx="319.1" cy="825.0" r="3.9" fill="#fff" stroke="#000" stroke-width="1.9"/>
<circle cx="319.1" cy="876.8" r="3.9" fill="#fff" stroke="#000" stroke-width="1.9"/>
<circle cx="319.1" cy="887.0" r="3.9" fill="#fff" stroke="#000" stroke-width="1.9"/>
<circle cx="319.1" cy="898.4" r="3.9" fill="#fff" stroke="#000" stroke-width="1.9"/>
<circle cx="302.3" cy="1005.7" r="3.9" fill="#fff" stroke="#000" stroke-width="1.9"/>
<circle cx="319.1" cy="1014.3" r="3.9" fill="#fff" stroke="#000" stroke-width="1.9"/>
<circle cx="337.3" cy="1007.3" r="3.9" fill="#fff" stroke="#000" stroke-width="1.9"/>
<circle cx="319.1" cy="1078.8" r="3.9" fill="#fff" stroke="#000" stroke-width="1.9"/>
<text x="149.5" y="1149.0" font-size="24" text-anchor="middle" fill="#000">WT</text>
<text x="222.0" y="1149.0" font-size="24" text-anchor="middle" fill="#000">NAc</text>
<text x="222.0" y="1176.0" font-size="24" text-anchor="middle" fill="#000">D3RcKO</text>
<text x="327.0" y="1149.0" font-size="24" text-anchor="middle" fill="#000">NAc</text>
<text x="327.0" y="1176.0" font-size="24" text-anchor="middle" fill="#000">D1RcKO</text>
<text x="36.8" y="900.0" font-size="24.1" text-anchor="middle" fill="#000" transform="rotate(-90 36.8 900.0)">Social preference (% of test time)</text>
<text x="408.5" y="652.0" font-size="47" text-anchor="start" font-weight="bold" fill="#000">d</text>
<text x="671.2" y="641.4" font-size="27.5" text-anchor="middle" fill="#000" class="ti">Light-dark box</text>
<line x1="531.0" y1="661.4" x2="816.2" y2="661.4" stroke="#000" stroke-width="1.6"/>
<line x1="532.0" y1="688.3" x2="532.0" y2="1113.1" stroke="#000" stroke-width="1.6"/>
<line x1="521.0" y1="1112.3" x2="532.0" y2="1112.3" stroke="#000" stroke-width="1.6"/>
<text x="518.0" y="1120.5" font-size="23.5" text-anchor="end" fill="#000">0</text>
<line x1="521.0" y1="1006.5" x2="532.0" y2="1006.5" stroke="#000" stroke-width="1.6"/>
<text x="518.0" y="1014.7" font-size="23.5" text-anchor="end" fill="#000">20</text>
<line x1="521.0" y1="900.7" x2="532.0" y2="900.7" stroke="#000" stroke-width="1.6"/>
<text x="518.0" y="908.9" font-size="23.5" text-anchor="end" fill="#000">40</text>
<line x1="521.0" y1="794.9" x2="532.0" y2="794.9" stroke="#000" stroke-width="1.6"/>
<text x="518.0" y="803.1" font-size="23.5" text-anchor="end" fill="#000">60</text>
<line x1="521.0" y1="689.1" x2="532.0" y2="689.1" stroke="#000" stroke-width="1.6"/>
<text x="518.0" y="697.3" font-size="23.5" text-anchor="end" fill="#000">80</text>
<line x1="532.0" y1="1112.3" x2="816.0" y2="1112.3" stroke="#000" stroke-width="1.6"/>
<rect x="561.3" y="901.6" width="56.7" height="210.7" fill="#fff" stroke="#000" stroke-width="1.8"/>
<rect x="646.6" y="893.7" width="55.7" height="218.6" fill="#96c3f7" stroke="#000" stroke-width="1.8"/>
<rect x="730.9" y="881.3" width="56.0" height="231.0" fill="#aefeab" stroke="#000" stroke-width="1.8"/>
<line x1="589.3" y1="1112.3" x2="589.3" y2="1123.4" stroke="#000" stroke-width="1.6"/>
<line x1="673.6" y1="1112.3" x2="673.6" y2="1123.4" stroke="#000" stroke-width="1.6"/>
<line x1="758.3" y1="1112.3" x2="758.3" y2="1123.4" stroke="#000" stroke-width="1.6"/>
<line x1="589.3" y1="882.5" x2="589.3" y2="921.4" stroke="#000" stroke-width="1.6"/>
<line x1="673.6" y1="871.0" x2="673.6" y2="914.4" stroke="#000" stroke-width="1.6"/>
<line x1="758.3" y1="845.0" x2="758.3" y2="915.0" stroke="#000" stroke-width="1.6"/>
<circle cx="589.3" cy="768.0" r="3.9" fill="#fff" stroke="#000" stroke-width="1.9"/>
<circle cx="589.3" cy="852.3" r="3.9" fill="#fff" stroke="#000" stroke-width="1.9"/>
<circle cx="589.3" cy="878.4" r="3.9" fill="#fff" stroke="#000" stroke-width="1.9"/>
<circle cx="589.3" cy="914.3" r="3.9" fill="#fff" stroke="#000" stroke-width="1.9"/>
<circle cx="580.4" cy="923.0" r="3.9" fill="#fff" stroke="#000" stroke-width="1.9"/>
<circle cx="597.9" cy="925.2" r="3.9" fill="#fff" stroke="#000" stroke-width="1.9"/>
<circle cx="589.3" cy="938.2" r="3.9" fill="#fff" stroke="#000" stroke-width="1.9"/>
<circle cx="597.9" cy="947.4" r="3.9" fill="#fff" stroke="#000" stroke-width="1.9"/>
<circle cx="580.4" cy="956.4" r="3.9" fill="#fff" stroke="#000" stroke-width="1.9"/>
<circle cx="673.6" cy="798.2" r="3.9" fill="#fff" stroke="#000" stroke-width="1.9"/>
<circle cx="673.6" cy="822.7" r="3.9" fill="#fff" stroke="#000" stroke-width="1.9"/>
<circle cx="664.7" cy="867.3" r="3.9" fill="#fff" stroke="#000" stroke-width="1.9"/>
<circle cx="682.5" cy="869.5" r="3.9" fill="#fff" stroke="#000" stroke-width="1.9"/>
<circle cx="673.6" cy="881.0" r="3.9" fill="#fff" stroke="#000" stroke-width="1.9"/>
<circle cx="673.6" cy="895.9" r="3.9" fill="#fff" stroke="#000" stroke-width="1.9"/>
<circle cx="673.6" cy="941.4" r="3.9" fill="#fff" stroke="#000" stroke-width="1.9"/>
<circle cx="673.6" cy="958.0" r="3.9" fill="#fff" stroke="#000" stroke-width="1.9"/>
<circle cx="673.6" cy="1003.4" r="3.9" fill="#fff" stroke="#000" stroke-width="1.9"/>
<circle cx="749.4" cy="797.3" r="3.9" fill="#fff" stroke="#000" stroke-width="1.9"/>
<circle cx="767.5" cy="795.4" r="3.9" fill="#fff" stroke="#000" stroke-width="1.9"/>
<circle cx="758.3" cy="823.7" r="3.9" fill="#fff" stroke="#000" stroke-width="1.9"/>
<circle cx="758.3" cy="938.8" r="3.9" fill="#fff" stroke="#000" stroke-width="1.9"/>
<circle cx="758.3" cy="950.0" r="3.9" fill="#fff" stroke="#000" stroke-width="1.9"/>
<circle cx="758.3" cy="974.8" r="3.9" fill="#fff" stroke="#000" stroke-width="1.9"/>
<text x="589.3" y="1149.0" font-size="24" text-anchor="middle" fill="#000">WT</text>
<text x="663.0" y="1149.0" font-size="24" text-anchor="middle" fill="#000">NAc</text>
<text x="663.0" y="1176.0" font-size="24" text-anchor="middle" fill="#000">D3RcKO</text>
<text x="767.0" y="1149.0" font-size="24" text-anchor="middle" fill="#000">NAc</text>
<text x="767.0" y="1176.0" font-size="24" text-anchor="middle" fill="#000">D1RcKO</text>
<text x="477.0" y="896.0" font-size="24.3" text-anchor="middle" fill="#000" transform="rotate(-90 477.0 896.0)">Time exploring light side (%)</text>
<text x="864.0" y="652.5" font-size="47" text-anchor="start" font-weight="bold" fill="#000">e</text>
<text x="1351.5" y="629.5" font-size="27.8" text-anchor="middle" fill="#000" class="ti">Novel object recognition</text>
<line x1="965.9" y1="654.5" x2="1692.3" y2="654.5" stroke="#000" stroke-width="1.6"/>
<defs><pattern id="chkW" patternUnits="userSpaceOnUse" width="11.4" height="11.5" x="1040.05" y="946.25"><rect width="11.4" height="11.5" fill="#000"/><rect x="0" y="0" width="4.3" height="4.3" fill="#fff"/><rect x="5.7" y="5.75" width="4.3" height="4.3" fill="#fff"/></pattern><pattern id="chkB" patternUnits="userSpaceOnUse" width="11.4" height="11.5" x="1137.45" y="913.15"><rect width="11.4" height="11.5" fill="#000"/><rect x="0" y="0" width="4.3" height="4.3" fill="#b0eefb"/><rect x="5.7" y="5.75" width="4.3" height="4.3" fill="#b0eefb"/></pattern><pattern id="chkG" patternUnits="userSpaceOnUse" width="11.4" height="11.5" x="1235.35" y="932.0"><rect width="11.4" height="11.5" fill="#000"/><rect x="0" y="0" width="4.3" height="4.3" fill="#c4fbbf"/><rect x="5.7" y="5.75" width="4.3" height="4.3" fill="#c4fbbf"/></pattern><pattern id="chkL" patternUnits="userSpaceOnUse" width="16.5" height="16.5" x="1039.3" y="1174.9"><rect width="16.5" height="16.5" fill="#000"/><rect x="1.1" y="1.1" width="6" height="6" fill="#fff"/><rect x="9.35" y="9.35" width="6" height="6" fill="#fff"/></pattern></defs>
<line x1="989.6" y1="690.6" x2="989.6" y2="1115.3" stroke="#000" stroke-width="1.6"/>
<line x1="978.6" y1="1114.5" x2="989.6" y2="1114.5" stroke="#000" stroke-width="1.6"/>
<text x="975.6" y="1122.7" font-size="23.5" text-anchor="end" fill="#000">0</text>
<line x1="978.6" y1="1029.9" x2="989.6" y2="1029.9" stroke="#000" stroke-width="1.6"/>
<text x="975.6" y="1038.1" font-size="23.5" text-anchor="end" fill="#000">10</text>
<line x1="978.6" y1="945.3" x2="989.6" y2="945.3" stroke="#000" stroke-width="1.6"/>
<text x="975.6" y="953.5" font-size="23.5" text-anchor="end" fill="#000">20</text>
<line x1="978.6" y1="860.6" x2="989.6" y2="860.6" stroke="#000" stroke-width="1.6"/>
<text x="975.6" y="868.8" font-size="23.5" text-anchor="end" fill="#000">30</text>
<line x1="978.6" y1="776.0" x2="989.6" y2="776.0" stroke="#000" stroke-width="1.6"/>
<text x="975.6" y="784.2" font-size="23.5" text-anchor="end" fill="#000">40</text>
<line x1="978.6" y1="691.4" x2="989.6" y2="691.4" stroke="#000" stroke-width="1.6"/>
<text x="975.6" y="699.6" font-size="23.5" text-anchor="end" fill="#000">50</text>
<line x1="989.6" y1="1114.5" x2="1271.3" y2="1114.5" stroke="#000" stroke-width="1.6"/>
<rect x="1001.7" y="929.7" width="23.0" height="184.8" fill="#fff" stroke="#000" stroke-width="1.8"/>
<rect x="1039.2" y="945.8" width="23.0" height="168.7" fill="url(#chkW)" stroke="#000" stroke-width="1.8"/>
<rect x="1099.7" y="901.4" width="23.7" height="213.1" fill="#96c3f7" stroke="#000" stroke-width="1.8"/>
<rect x="1136.8" y="910.6" width="23.7" height="203.9" fill="url(#chkB)" stroke="#000" stroke-width="1.8"/>
<rect x="1198.3" y="907.4" width="23.7" height="207.1" fill="#aefeab" stroke="#000" stroke-width="1.8"/>
<rect x="1234.5" y="929.7" width="24.0" height="184.8" fill="url(#chkG)" stroke="#000" stroke-width="1.8"/>
<line x1="1013.2" y1="912.3" x2="1013.2" y2="948.5" stroke="#000" stroke-width="1.6"/>
<line x1="1050.7" y1="937.0" x2="1050.7" y2="955.0" stroke="#000" stroke-width="1.6"/>
<line x1="1111.5" y1="876.8" x2="1111.5" y2="923.8" stroke="#000" stroke-width="1.6"/>
<line x1="1148.6" y1="892.6" x2="1148.6" y2="928.7" stroke="#000" stroke-width="1.6"/>
<line x1="1210.2" y1="894.2" x2="1210.2" y2="920.5" stroke="#000" stroke-width="1.6"/>
<line x1="1246.5" y1="908.0" x2="1246.5" y2="951.7" stroke="#000" stroke-width="1.6"/>
<circle cx="1003.7" cy="850.8" r="3.0" fill="#fff" stroke="#000" stroke-width="1.7"/>
<circle cx="1013.2" cy="854.1" r="3.0" fill="#fff" stroke="#000" stroke-width="1.7"/>
<circle cx="1022.4" cy="850.8" r="3.0" fill="#fff" stroke="#000" stroke-width="1.7"/>
<circle cx="1013.2" cy="885.3" r="3.0" fill="#fff" stroke="#000" stroke-width="1.7"/>
<circle cx="1013.2" cy="907.4" r="3.0" fill="#fff" stroke="#000" stroke-width="1.7"/>
<circle cx="1013.2" cy="914.0" r="3.0" fill="#fff" stroke="#000" stroke-width="1.7"/>
<circle cx="1013.2" cy="936.0" r="3.0" fill="#fff" stroke="#000" stroke-width="1.7"/>
<circle cx="1013.2" cy="950.1" r="3.0" fill="#fff" stroke="#000" stroke-width="1.7"/>
<circle cx="1009.0" cy="989.5" r="3.0" fill="#fff" stroke="#000" stroke-width="1.7"/>
<circle cx="1017.8" cy="988.5" r="3.0" fill="#fff" stroke="#000" stroke-width="1.7"/>
<circle cx="1013.2" cy="996.1" r="3.0" fill="#fff" stroke="#000" stroke-width="1.7"/>
<circle cx="1013.2" cy="1031.3" r="3.0" fill="#fff" stroke="#000" stroke-width="1.7"/>
<circle cx="1045.5" cy="884.4" r="3.0" fill="#fff" stroke="#000" stroke-width="1.7"/>
<circle cx="1050.7" cy="872.2" r="3.0" fill="#fff" stroke="#000" stroke-width="1.7"/>
<circle cx="1056.0" cy="879.7" r="3.0" fill="#fff" stroke="#000" stroke-width="1.7"/>
<circle cx="1045.5" cy="914.6" r="3.0" fill="#fff" stroke="#000" stroke-width="1.7"/>
<circle cx="1056.0" cy="910.7" r="3.0" fill="#fff" stroke="#000" stroke-width="1.7"/>
<circle cx="1050.7" cy="923.8" r="3.0" fill="#fff" stroke="#000" stroke-width="1.7"/>
<circle cx="1050.7" cy="938.6" r="3.0" fill="#fff" stroke="#000" stroke-width="1.7"/>
<circle cx="1050.7" cy="958.3" r="3.0" fill="#fff" stroke="#000" stroke-width="1.7"/>
<circle cx="1045.5" cy="1009.3" r="3.0" fill="#fff" stroke="#000" stroke-width="1.7"/>
<circle cx="1056.0" cy="1012.6" r="3.0" fill="#fff" stroke="#000" stroke-width="1.7"/>
<circle cx="1050.7" cy="1072.4" r="3.0" fill="#fff" stroke="#000" stroke-width="1.7"/>
<circle cx="1111.5" cy="773.6" r="3.0" fill="#fff" stroke="#000" stroke-width="1.7"/>
<circle cx="1111.5" cy="808.1" r="3.0" fill="#fff" stroke="#000" stroke-width="1.7"/>
<circle cx="1111.5" cy="892.6" r="3.0" fill="#fff" stroke="#000" stroke-width="1.7"/>
<circle cx="1104.6" cy="915.6" r="3.0" fill="#fff" stroke="#000" stroke-width="1.7"/>
<circle cx="1117.8" cy="910.7" r="3.0" fill="#fff" stroke="#000" stroke-width="1.7"/>
<circle cx="1117.8" cy="917.2" r="3.0" fill="#fff" stroke="#000" stroke-width="1.7"/>
<circle cx="1104.6" cy="928.7" r="3.0" fill="#fff" stroke="#000" stroke-width="1.7"/>
<circle cx="1117.8" cy="931.4" r="3.0" fill="#fff" stroke="#000" stroke-width="1.7"/>
<circle cx="1111.5" cy="1023.4" r="3.0" fill="#fff" stroke="#000" stroke-width="1.7"/>
<circle cx="1148.6" cy="846.5" r="3.0" fill="#fff" stroke="#000" stroke-width="1.7"/>
<circle cx="1142.4" cy="871.2" r="3.0" fill="#fff" stroke="#000" stroke-width="1.7"/>
<circle cx="1154.6" cy="869.6" r="3.0" fill="#fff" stroke="#000" stroke-width="1.7"/>
<circle cx="1154.6" cy="876.1" r="3.0" fill="#fff" stroke="#000" stroke-width="1.7"/>
<circle cx="1148.6" cy="902.4" r="3.0" fill="#fff" stroke="#000" stroke-width="1.7"/>
<circle cx="1148.6" cy="941.9" r="3.0" fill="#fff" stroke="#000" stroke-width="1.7"/>
<circle cx="1148.6" cy="974.8" r="3.0" fill="#fff" stroke="#000" stroke-width="1.7"/>
<circle cx="1148.6" cy="994.5" r="3.0" fill="#fff" stroke="#000" stroke-width="1.7"/>
<circle cx="1206.5" cy="836.0" r="3.0" fill="#fff" stroke="#000" stroke-width="1.7"/>
<circle cx="1213.1" cy="832.7" r="3.0" fill="#fff" stroke="#000" stroke-width="1.7"/>
<circle cx="1210.2" cy="891.9" r="3.0" fill="#fff" stroke="#000" stroke-width="1.7"/>
<circle cx="1201.0" cy="924.8" r="3.0" fill="#fff" stroke="#000" stroke-width="1.7"/>
<circle cx="1210.2" cy="924.8" r="3.0" fill="#fff" stroke="#000" stroke-width="1.7"/>
<circle cx="1219.7" cy="924.8" r="3.0" fill="#fff" stroke="#000" stroke-width="1.7"/>
<circle cx="1210.2" cy="929.7" r="3.0" fill="#fff" stroke="#000" stroke-width="1.7"/>
<circle cx="1210.2" cy="983.0" r="3.0" fill="#fff" stroke="#000" stroke-width="1.7"/>
<circle cx="1246.5" cy="822.6" r="3.0" fill="#fff" stroke="#000" stroke-width="1.7"/>
<circle cx="1246.5" cy="870.2" r="3.0" fill="#fff" stroke="#000" stroke-width="1.7"/>
<circle cx="1246.5" cy="921.5" r="3.0" fill="#fff" stroke="#000" stroke-width="1.7"/>
<circle cx="1246.5" cy="932.0" r="3.0" fill="#fff" stroke="#000" stroke-width="1.7"/>
<circle cx="1240.0" cy="945.2" r="3.0" fill="#fff" stroke="#000" stroke-width="1.7"/>
<circle cx="1252.5" cy="946.8" r="3.0" fill="#fff" stroke="#000" stroke-width="1.7"/>
<circle cx="1246.5" cy="991.2" r="3.0" fill="#fff" stroke="#000" stroke-width="1.7"/>
<circle cx="1240.0" cy="992.8" r="3.0" fill="#fff" stroke="#000" stroke-width="1.7"/>
<rect x="1039.5" y="1129.8" width="32.3" height="32.6" fill="#fff" stroke="#000" stroke-width="1.8"/>
<rect x="1039.5" y="1175.5" width="32.3" height="32.8" fill="url(#chkL)" stroke="#000" stroke-width="1.8"/>
<text x="1083.0" y="1152.5" font-size="27" text-anchor="start" fill="#000" class="ti">Object 1</text>
<text x="1083.0" y="1196.8" font-size="27" text-anchor="start" fill="#000" class="ti">Object 2</text>
<text x="932.8" y="901.5" font-size="24.7" text-anchor="middle" fill="#000" transform="rotate(-90 932.8 901.5)">Trial time (%)</text>
<line x1="1408.2" y1="688.3" x2="1408.2" y2="1113.1" stroke="#000" stroke-width="1.6"/>
<line x1="1397.2" y1="1112.3" x2="1408.2" y2="1112.3" stroke="#000" stroke-width="1.6"/>
<text x="1394.2" y="1120.5" font-size="23.5" text-anchor="end" fill="#000">0</text>
<line x1="1397.2" y1="1027.7" x2="1408.2" y2="1027.7" stroke="#000" stroke-width="1.6"/>
<text x="1394.2" y="1035.9" font-size="23.5" text-anchor="end" fill="#000">10</text>
<line x1="1397.2" y1="943.0" x2="1408.2" y2="943.0" stroke="#000" stroke-width="1.6"/>
<text x="1394.2" y="951.2" font-size="23.5" text-anchor="end" fill="#000">20</text>
<line x1="1397.2" y1="858.4" x2="1408.2" y2="858.4" stroke="#000" stroke-width="1.6"/>
<text x="1394.2" y="866.6" font-size="23.5" text-anchor="end" fill="#000">30</text>
<line x1="1397.2" y1="773.7" x2="1408.2" y2="773.7" stroke="#000" stroke-width="1.6"/>
<text x="1394.2" y="781.9" font-size="23.5" text-anchor="end" fill="#000">40</text>
<line x1="1397.2" y1="689.1" x2="1408.2" y2="689.1" stroke="#000" stroke-width="1.6"/>
<text x="1394.2" y="697.3" font-size="23.5" text-anchor="end" fill="#000">50</text>
<line x1="1408.2" y1="1112.3" x2="1690.7" y2="1112.3" stroke="#000" stroke-width="1.6"/>
<rect x="1436.8" y="910.2" width="54.4" height="202.1" fill="#fff" stroke="#000" stroke-width="1.8"/>
<rect x="1521.8" y="928.7" width="54.4" height="183.6" fill="#96c3f7" stroke="#000" stroke-width="1.8"/>
<rect x="1606.0" y="892.7" width="54.5" height="219.6" fill="#aefeab" stroke="#000" stroke-width="1.8"/>
<line x1="1463.9" y1="1112.3" x2="1463.9" y2="1123.4" stroke="#000" stroke-width="1.6"/>
<line x1="1548.5" y1="1112.3" x2="1548.5" y2="1123.4" stroke="#000" stroke-width="1.6"/>
<line x1="1633.1" y1="1112.3" x2="1633.1" y2="1123.4" stroke="#000" stroke-width="1.6"/>
<line x1="1463.9" y1="882.5" x2="1463.9" y2="934.0" stroke="#000" stroke-width="1.6"/>
<line x1="1548.5" y1="905.4" x2="1548.5" y2="950.0" stroke="#000" stroke-width="1.6"/>
<line x1="1633.1" y1="872.0" x2="1633.1" y2="915.0" stroke="#000" stroke-width="1.6"/>
<circle cx="1455.3" cy="743.8" r="3.9" fill="#fff" stroke="#000" stroke-width="1.9"/>
<circle cx="1472.8" cy="744.8" r="3.9" fill="#fff" stroke="#000" stroke-width="1.9"/>
<circle cx="1455.3" cy="903.8" r="3.9" fill="#fff" stroke="#000" stroke-width="1.9"/>
<circle cx="1472.8" cy="899.7" r="3.9" fill="#fff" stroke="#000" stroke-width="1.9"/>
<circle cx="1481.4" cy="912.8" r="3.9" fill="#fff" stroke="#000" stroke-width="1.9"/>
<circle cx="1463.9" cy="918.2" r="3.9" fill="#fff" stroke="#000" stroke-width="1.9"/>
<circle cx="1446.4" cy="926.1" r="3.9" fill="#fff" stroke="#000" stroke-width="1.9"/>
<circle cx="1481.4" cy="924.5" r="3.9" fill="#fff" stroke="#000" stroke-width="1.9"/>
<circle cx="1463.9" cy="944.3" r="3.9" fill="#fff" stroke="#000" stroke-width="1.9"/>
<circle cx="1455.3" cy="958.9" r="3.9" fill="#fff" stroke="#000" stroke-width="1.9"/>
<circle cx="1472.8" cy="963.4" r="3.9" fill="#fff" stroke="#000" stroke-width="1.9"/>
<circle cx="1463.9" cy="1067.7" r="3.9" fill="#fff" stroke="#000" stroke-width="1.9"/>
<circle cx="1548.5" cy="801.1" r="3.9" fill="#fff" stroke="#000" stroke-width="1.9"/>
<circle cx="1548.5" cy="867.3" r="3.9" fill="#fff" stroke="#000" stroke-width="1.9"/>
<circle cx="1539.9" cy="919.8" r="3.9" fill="#fff" stroke="#000" stroke-width="1.9"/>
<circle cx="1557.4" cy="915.6" r="3.9" fill="#fff" stroke="#000" stroke-width="1.9"/>
<circle cx="1539.9" cy="938.2" r="3.9" fill="#fff" stroke="#000" stroke-width="1.9"/>
<circle cx="1557.4" cy="944.3" r="3.9" fill="#fff" stroke="#000" stroke-width="1.9"/>
<circle cx="1539.9" cy="950.0" r="3.9" fill="#fff" stroke="#000" stroke-width="1.9"/>
<circle cx="1548.5" cy="984.3" r="3.9" fill="#fff" stroke="#000" stroke-width="1.9"/>
<circle cx="1548.5" cy="1033.7" r="3.9" fill="#fff" stroke="#000" stroke-width="1.9"/>
<circle cx="1633.1" cy="755.3" r="3.9" fill="#fff" stroke="#000" stroke-width="1.9"/>
<circle cx="1633.1" cy="839.3" r="3.9" fill="#fff" stroke="#000" stroke-width="1.9"/>
<circle cx="1633.1" cy="868.2" r="3.9" fill="#fff" stroke="#000" stroke-width="1.9"/>
<circle cx="1624.5" cy="922.9" r="3.9" fill="#fff" stroke="#000" stroke-width="1.9"/>
<circle cx="1642.0" cy="924.5" r="3.9" fill="#fff" stroke="#000" stroke-width="1.9"/>
<circle cx="1633.1" cy="934.7" r="3.9" fill="#fff" stroke="#000" stroke-width="1.9"/>
<circle cx="1624.5" cy="944.6" r="3.9" fill="#fff" stroke="#000" stroke-width="1.9"/>
<circle cx="1642.0" cy="944.6" r="3.9" fill="#fff" stroke="#000" stroke-width="1.9"/>
<text x="1463.9" y="1149.0" font-size="24" text-anchor="middle" fill="#000">WT</text>
<text x="1538.0" y="1149.0" font-size="24" text-anchor="middle" fill="#000">NAc</text>
<text x="1538.0" y="1176.0" font-size="24" text-anchor="middle" fill="#000">D3RcKO</text>
<text x="1641.0" y="1149.0" font-size="24" text-anchor="middle" fill="#000">NAc</text>
<text x="1641.0" y="1176.0" font-size="24" text-anchor="middle" fill="#000">D1RcKO</text>
<text x="1353.0" y="898.3" font-size="24.3" text-anchor="middle" fill="#000" transform="rotate(-90 1353.0 898.3)">Novel object (% trial time)</text>
<text x="10.0" y="1301.0" font-size="47" text-anchor="start" font-weight="bold" fill="#000">f</text>
<text x="466.0" y="1379.5" font-size="27.9" text-anchor="middle" fill="#000" class="ti">Platform-mediated avoidance Day 2</text>
<line x1="110.9" y1="1393.6" x2="837.0" y2="1393.6" stroke="#000" stroke-width="1.6"/>
<line x1="109.6" y1="1569.1" x2="109.6" y2="1995.2" stroke="#000" stroke-width="1.6"/>
<line x1="98.6" y1="1994.4" x2="109.6" y2="1994.4" stroke="#000" stroke-width="1.6"/>
<text x="95.6" y="2002.6" font-size="23.5" text-anchor="end" fill="#000">0</text>
<line x1="98.6" y1="1909.5" x2="109.6" y2="1909.5" stroke="#000" stroke-width="1.6"/>
<text x="95.6" y="1917.7" font-size="23.5" text-anchor="end" fill="#000">20</text>
<line x1="98.6" y1="1824.6" x2="109.6" y2="1824.6" stroke="#000" stroke-width="1.6"/>
<text x="95.6" y="1832.8" font-size="23.5" text-anchor="end" fill="#000">40</text>
<line x1="98.6" y1="1739.7" x2="109.6" y2="1739.7" stroke="#000" stroke-width="1.6"/>
<text x="95.6" y="1747.9" font-size="23.5" text-anchor="end" fill="#000">60</text>
<line x1="98.6" y1="1654.8" x2="109.6" y2="1654.8" stroke="#000" stroke-width="1.6"/>
<text x="95.6" y="1663.0" font-size="23.5" text-anchor="end" fill="#000">80</text>
<line x1="98.6" y1="1569.9" x2="109.6" y2="1569.9" stroke="#000" stroke-width="1.6"/>
<text x="95.6" y="1578.1" font-size="23.5" text-anchor="end" fill="#000">100</text>
<line x1="109.6" y1="1994.4" x2="393.5" y2="1994.4" stroke="#000" stroke-width="1.6"/>
<rect x="123.8" y="1962.6" width="26.4" height="31.8" fill="#fff" stroke="#000" stroke-width="1.8"/>
<rect x="164.3" y="1960.0" width="26.0" height="34.4" fill="#96c3f7" stroke="#000" stroke-width="1.8"/>
<rect x="204.5" y="1841.0" width="25.7" height="153.4" fill="#aefeab" stroke="#000" stroke-width="1.8"/>
<rect x="271.6" y="1602.8" width="26.4" height="391.6" fill="#fff" stroke="#000" stroke-width="1.8"/>
<rect x="311.8" y="1607.2" width="26.6" height="387.2" fill="#96c3f7" stroke="#000" stroke-width="1.8"/>
<rect x="352.2" y="1726.0" width="26.3" height="268.4" fill="#aefeab" stroke="#000" stroke-width="1.8"/>
<line x1="176.8" y1="1994.4" x2="176.8" y2="2004.3" stroke="#000" stroke-width="1.6"/>
<line x1="324.9" y1="1994.4" x2="324.9" y2="2004.3" stroke="#000" stroke-width="1.6"/>
<line x1="136.9" y1="1952.4" x2="136.9" y2="1972.0" stroke="#000" stroke-width="1.6"/>
<line x1="177.2" y1="1940.0" x2="177.2" y2="1978.6" stroke="#000" stroke-width="1.6"/>
<line x1="217.1" y1="1807.9" x2="217.1" y2="1873.9" stroke="#000" stroke-width="1.6"/>
<line x1="284.6" y1="1592.8" x2="284.6" y2="1612.3" stroke="#000" stroke-width="1.6"/>
<line x1="325.0" y1="1587.3" x2="325.0" y2="1626.0" stroke="#000" stroke-width="1.6"/>
<line x1="364.9" y1="1697.0" x2="364.9" y2="1756.8" stroke="#000" stroke-width="1.6"/>
<circle cx="136.9" cy="1888.3" r="2.9" fill="#fff" stroke="#000" stroke-width="1.6"/>
<circle cx="136.9" cy="1930.7" r="2.9" fill="#fff" stroke="#000" stroke-width="1.6"/>
<circle cx="130.2" cy="1952.0" r="2.9" fill="#fff" stroke="#000" stroke-width="1.6"/>
<circle cx="136.9" cy="1952.0" r="2.9" fill="#fff" stroke="#000" stroke-width="1.6"/>
<circle cx="143.6" cy="1952.0" r="2.9" fill="#fff" stroke="#000" stroke-width="1.6"/>
<circle cx="126.9" cy="1973.2" r="2.9" fill="#fff" stroke="#000" stroke-width="1.6"/>
<circle cx="133.6" cy="1973.2" r="2.9" fill="#fff" stroke="#000" stroke-width="1.6"/>
<circle cx="140.2" cy="1973.2" r="2.9" fill="#fff" stroke="#000" stroke-width="1.6"/>
<circle cx="147.0" cy="1973.2" r="2.9" fill="#fff" stroke="#000" stroke-width="1.6"/>
<circle cx="130.2" cy="1994.4" r="2.9" fill="#fff" stroke="#000" stroke-width="1.6"/>
<circle cx="136.9" cy="1994.4" r="2.9" fill="#fff" stroke="#000" stroke-width="1.6"/>
<circle cx="143.6" cy="1994.4" r="2.9" fill="#fff" stroke="#000" stroke-width="1.6"/>
<circle cx="177.2" cy="1824.6" r="2.9" fill="#fff" stroke="#000" stroke-width="1.6"/>
<circle cx="177.2" cy="1909.5" r="2.9" fill="#fff" stroke="#000" stroke-width="1.6"/>
<circle cx="177.2" cy="1952.0" r="2.9" fill="#fff" stroke="#000" stroke-width="1.6"/>
<circle cx="177.2" cy="1973.2" r="2.9" fill="#fff" stroke="#000" stroke-width="1.6"/>
<circle cx="167.1" cy="1994.4" r="2.9" fill="#fff" stroke="#000" stroke-width="1.6"/>
<circle cx="173.8" cy="1994.4" r="2.9" fill="#fff" stroke="#000" stroke-width="1.6"/>
<circle cx="180.5" cy="1994.4" r="2.9" fill="#fff" stroke="#000" stroke-width="1.6"/>
<circle cx="187.2" cy="1994.4" r="2.9" fill="#fff" stroke="#000" stroke-width="1.6"/>
<circle cx="213.8" cy="1591.1" r="2.9" fill="#fff" stroke="#000" stroke-width="1.6"/>
<circle cx="220.4" cy="1591.1" r="2.9" fill="#fff" stroke="#000" stroke-width="1.6"/>
<circle cx="217.1" cy="1654.8" r="2.9" fill="#fff" stroke="#000" stroke-width="1.6"/>
<circle cx="217.1" cy="1676.0" r="2.9" fill="#fff" stroke="#000" stroke-width="1.6"/>
<circle cx="217.1" cy="1782.2" r="2.9" fill="#fff" stroke="#000" stroke-width="1.6"/>
<circle cx="217.1" cy="1845.8" r="2.9" fill="#fff" stroke="#000" stroke-width="1.6"/>
<circle cx="217.1" cy="1867.1" r="2.9" fill="#fff" stroke="#000" stroke-width="1.6"/>
<circle cx="217.1" cy="1888.3" r="2.9" fill="#fff" stroke="#000" stroke-width="1.6"/>
<circle cx="207.0" cy="1909.5" r="2.9" fill="#fff" stroke="#000" stroke-width="1.6"/>
<circle cx="213.8" cy="1909.5" r="2.9" fill="#fff" stroke="#000" stroke-width="1.6"/>
<circle cx="220.4" cy="1909.5" r="2.9" fill="#fff" stroke="#000" stroke-width="1.6"/>
<circle cx="227.2" cy="1909.5" r="2.9" fill="#fff" stroke="#000" stroke-width="1.6"/>
<circle cx="213.8" cy="1930.7" r="2.9" fill="#fff" stroke="#000" stroke-width="1.6"/>
<circle cx="220.4" cy="1930.7" r="2.9" fill="#fff" stroke="#000" stroke-width="1.6"/>
<circle cx="213.8" cy="1952.0" r="2.9" fill="#fff" stroke="#000" stroke-width="1.6"/>
<circle cx="220.4" cy="1952.0" r="2.9" fill="#fff" stroke="#000" stroke-width="1.6"/>
<circle cx="217.1" cy="1973.2" r="2.9" fill="#fff" stroke="#000" stroke-width="1.6"/>
<circle cx="277.9" cy="1569.9" r="2.9" fill="#fff" stroke="#000" stroke-width="1.6"/>
<circle cx="284.6" cy="1569.9" r="2.9" fill="#fff" stroke="#000" stroke-width="1.6"/>
<circle cx="291.3" cy="1569.9" r="2.9" fill="#fff" stroke="#000" stroke-width="1.6"/>
<circle cx="274.6" cy="1591.1" r="2.9" fill="#fff" stroke="#000" stroke-width="1.6"/>
<circle cx="281.2" cy="1591.1" r="2.9" fill="#fff" stroke="#000" stroke-width="1.6"/>
<circle cx="288.0" cy="1591.1" r="2.9" fill="#fff" stroke="#000" stroke-width="1.6"/>
<circle cx="294.7" cy="1591.1" r="2.9" fill="#fff" stroke="#000" stroke-width="1.6"/>
<circle cx="277.9" cy="1612.4" r="2.9" fill="#fff" stroke="#000" stroke-width="1.6"/>
<circle cx="284.6" cy="1612.4" r="2.9" fill="#fff" stroke="#000" stroke-width="1.6"/>
<circle cx="291.3" cy="1612.4" r="2.9" fill="#fff" stroke="#000" stroke-width="1.6"/>
<circle cx="284.6" cy="1633.6" r="2.9" fill="#fff" stroke="#000" stroke-width="1.6"/>
<circle cx="284.6" cy="1676.0" r="2.9" fill="#fff" stroke="#000" stroke-width="1.6"/>
<circle cx="314.9" cy="1569.9" r="2.9" fill="#fff" stroke="#000" stroke-width="1.6"/>
<circle cx="321.6" cy="1569.9" r="2.9" fill="#fff" stroke="#000" stroke-width="1.6"/>
<circle cx="328.4" cy="1569.9" r="2.9" fill="#fff" stroke="#000" stroke-width="1.6"/>
<circle cx="335.1" cy="1569.9" r="2.9" fill="#fff" stroke="#000" stroke-width="1.6"/>
<circle cx="325.0" cy="1591.1" r="2.9" fill="#fff" stroke="#000" stroke-width="1.6"/>
<circle cx="325.0" cy="1612.4" r="2.9" fill="#fff" stroke="#000" stroke-width="1.6"/>
<circle cx="325.0" cy="1654.8" r="2.9" fill="#fff" stroke="#000" stroke-width="1.6"/>
<circle cx="325.0" cy="1739.7" r="2.9" fill="#fff" stroke="#000" stroke-width="1.6"/>
<circle cx="364.9" cy="1591.1" r="2.9" fill="#fff" stroke="#000" stroke-width="1.6"/>
<circle cx="361.5" cy="1612.4" r="2.9" fill="#fff" stroke="#000" stroke-width="1.6"/>
<circle cx="368.2" cy="1612.4" r="2.9" fill="#fff" stroke="#000" stroke-width="1.6"/>
<circle cx="361.5" cy="1633.6" r="2.9" fill="#fff" stroke="#000" stroke-width="1.6"/>
<circle cx="368.2" cy="1633.6" r="2.9" fill="#fff" stroke="#000" stroke-width="1.6"/>
<circle cx="354.8" cy="1654.8" r="2.9" fill="#fff" stroke="#000" stroke-width="1.6"/>
<circle cx="361.5" cy="1654.8" r="2.9" fill="#fff" stroke="#000" stroke-width="1.6"/>
<circle cx="368.2" cy="1654.8" r="2.9" fill="#fff" stroke="#000" stroke-width="1.6"/>
<circle cx="374.9" cy="1654.8" r="2.9" fill="#fff" stroke="#000" stroke-width="1.6"/>
<circle cx="364.9" cy="1676.0" r="2.9" fill="#fff" stroke="#000" stroke-width="1.6"/>
<circle cx="364.9" cy="1697.2" r="2.9" fill="#fff" stroke="#000" stroke-width="1.6"/>
<circle cx="364.9" cy="1718.5" r="2.9" fill="#fff" stroke="#000" stroke-width="1.6"/>
<circle cx="364.9" cy="1782.2" r="2.9" fill="#fff" stroke="#000" stroke-width="1.6"/>
<circle cx="364.9" cy="1888.3" r="2.9" fill="#fff" stroke="#000" stroke-width="1.6"/>
<circle cx="364.9" cy="1909.5" r="2.9" fill="#fff" stroke="#000" stroke-width="1.6"/>
<circle cx="361.5" cy="1973.2" r="2.9" fill="#fff" stroke="#000" stroke-width="1.6"/>
<circle cx="368.2" cy="1973.2" r="2.9" fill="#fff" stroke="#000" stroke-width="1.6"/>
<text x="176.5" y="2029.6" font-size="23.5" text-anchor="middle" fill="#000">Shock</text>
<text x="324.8" y="2029.6" font-size="23.5" text-anchor="middle" fill="#000">Avoidance</text>
<text x="41.2" y="1779.6" font-size="24.6" text-anchor="middle" fill="#000" transform="rotate(-90 41.2 1779.6)">Trial outcome (%)</text>
<line x1="137.0" y1="1474.3" x2="217.4" y2="1474.3" stroke="#000" stroke-width="1.6"/>
<text x="177.2" y="1475.3" font-size="31" text-anchor="middle" fill="#000" class="ti" letter-spacing="3">**</text>
<line x1="176.5" y1="1536.0" x2="217.4" y2="1536.0" stroke="#000" stroke-width="1.6"/>
<text x="196.9" y="1537.0" font-size="31" text-anchor="middle" fill="#000" class="ti" letter-spacing="3">**</text>
<line x1="284.8" y1="1474.3" x2="365.2" y2="1474.3" stroke="#000" stroke-width="1.6"/>
<text x="325.0" y="1475.3" font-size="31" text-anchor="middle" fill="#000" class="ti" letter-spacing="3">**</text>
<line x1="325.2" y1="1536.0" x2="365.2" y2="1536.0" stroke="#000" stroke-width="1.6"/>
<text x="345.2" y="1537.0" font-size="31" text-anchor="middle" fill="#000" class="ti" letter-spacing="3">**</text>
<line x1="568.7" y1="1568.7" x2="568.7" y2="1993.2" stroke="#000" stroke-width="1.6"/>
<line x1="557.7" y1="1992.4" x2="568.7" y2="1992.4" stroke="#000" stroke-width="1.6"/>
<text x="554.7" y="2000.6" font-size="23.5" text-anchor="end" fill="#000">0</text>
<line x1="557.7" y1="1781.0" x2="568.7" y2="1781.0" stroke="#000" stroke-width="1.6"/>
<text x="554.7" y="1789.2" font-size="23.5" text-anchor="end" fill="#000">50</text>
<line x1="557.7" y1="1569.5" x2="568.7" y2="1569.5" stroke="#000" stroke-width="1.6"/>
<text x="554.7" y="1577.7" font-size="23.5" text-anchor="end" fill="#000">100</text>
<line x1="568.7" y1="1992.4" x2="852.7" y2="1992.4" stroke="#000" stroke-width="1.6"/>
<rect x="598.4" y="1610.0" width="54.6" height="382.4" fill="#fff" stroke="#000" stroke-width="1.8"/>
<rect x="683.2" y="1635.7" width="54.5" height="356.7" fill="#96c3f7" stroke="#000" stroke-width="1.8"/>
<rect x="767.9" y="1737.4" width="54.6" height="255.0" fill="#aefeab" stroke="#000" stroke-width="1.8"/>
<line x1="625.3" y1="1992.4" x2="625.3" y2="2003.0" stroke="#000" stroke-width="1.6"/>
<line x1="710.5" y1="1992.4" x2="710.5" y2="2003.0" stroke="#000" stroke-width="1.6"/>
<line x1="795.6" y1="1992.4" x2="795.6" y2="2003.0" stroke="#000" stroke-width="1.6"/>
<line x1="625.3" y1="1599.7" x2="625.3" y2="1618.3" stroke="#000" stroke-width="1.6"/>
<line x1="710.5" y1="1622.4" x2="710.5" y2="1672.0" stroke="#000" stroke-width="1.6"/>
<line x1="795.6" y1="1709.3" x2="795.6" y2="1765.0" stroke="#000" stroke-width="1.6"/>
<circle cx="625.3" cy="1572.0" r="3.9" fill="#fff" stroke="#000" stroke-width="1.9"/>
<circle cx="610.0" cy="1586.0" r="3.9" fill="#fff" stroke="#000" stroke-width="1.9"/>
<circle cx="625.3" cy="1585.2" r="3.9" fill="#fff" stroke="#000" stroke-width="1.9"/>
<circle cx="641.8" cy="1585.2" r="3.9" fill="#fff" stroke="#000" stroke-width="1.9"/>
<circle cx="601.7" cy="1600.5" r="3.9" fill="#fff" stroke="#000" stroke-width="1.9"/>
<circle cx="617.9" cy="1603.0" r="3.9" fill="#fff" stroke="#000" stroke-width="1.9"/>
<circle cx="633.6" cy="1596.8" r="3.9" fill="#fff" stroke="#000" stroke-width="1.9"/>
<circle cx="648.9" cy="1598.5" r="3.9" fill="#fff" stroke="#000" stroke-width="1.9"/>
<circle cx="617.9" cy="1621.2" r="3.9" fill="#fff" stroke="#000" stroke-width="1.9"/>
<circle cx="633.6" cy="1614.2" r="3.9" fill="#fff" stroke="#000" stroke-width="1.9"/>
<circle cx="625.3" cy="1632.8" r="3.9" fill="#fff" stroke="#000" stroke-width="1.9"/>
<circle cx="625.3" cy="1706.0" r="3.9" fill="#fff" stroke="#000" stroke-width="1.9"/>
<circle cx="710.5" cy="1577.8" r="3.9" fill="#fff" stroke="#000" stroke-width="1.9"/>
<circle cx="693.5" cy="1590.2" r="3.9" fill="#fff" stroke="#000" stroke-width="1.9"/>
<circle cx="710.5" cy="1591.4" r="3.9" fill="#fff" stroke="#000" stroke-width="1.9"/>
<circle cx="727.4" cy="1587.3" r="3.9" fill="#fff" stroke="#000" stroke-width="1.9"/>
<circle cx="693.5" cy="1598.5" r="3.9" fill="#fff" stroke="#000" stroke-width="1.9"/>
<circle cx="710.5" cy="1606.7" r="3.9" fill="#fff" stroke="#000" stroke-width="1.9"/>
<circle cx="710.5" cy="1622.4" r="3.9" fill="#fff" stroke="#000" stroke-width="1.9"/>
<circle cx="710.5" cy="1673.3" r="3.9" fill="#fff" stroke="#000" stroke-width="1.9"/>
<circle cx="710.5" cy="1862.2" r="3.9" fill="#fff" stroke="#000" stroke-width="1.9"/>
<circle cx="795.6" cy="1610.9" r="3.9" fill="#fff" stroke="#000" stroke-width="1.9"/>
<circle cx="795.6" cy="1620.4" r="3.9" fill="#fff" stroke="#000" stroke-width="1.9"/>
<circle cx="795.6" cy="1634.0" r="3.9" fill="#fff" stroke="#000" stroke-width="1.9"/>
<circle cx="786.5" cy="1665.9" r="3.9" fill="#fff" stroke="#000" stroke-width="1.9"/>
<circle cx="803.9" cy="1665.9" r="3.9" fill="#fff" stroke="#000" stroke-width="1.9"/>
<circle cx="777.4" cy="1681.1" r="3.9" fill="#fff" stroke="#000" stroke-width="1.9"/>
<circle cx="795.6" cy="1679.5" r="3.9" fill="#fff" stroke="#000" stroke-width="1.9"/>
<circle cx="812.6" cy="1675.4" r="3.9" fill="#fff" stroke="#000" stroke-width="1.9"/>
<circle cx="812.6" cy="1689.4" r="3.9" fill="#fff" stroke="#000" stroke-width="1.9"/>
<circle cx="777.4" cy="1698.1" r="3.9" fill="#fff" stroke="#000" stroke-width="1.9"/>
<circle cx="812.6" cy="1700.2" r="3.9" fill="#fff" stroke="#000" stroke-width="1.9"/>
<circle cx="795.6" cy="1727.9" r="3.9" fill="#fff" stroke="#000" stroke-width="1.9"/>
<circle cx="795.6" cy="1765.1" r="3.9" fill="#fff" stroke="#000" stroke-width="1.9"/>
<circle cx="795.6" cy="1873.8" r="3.9" fill="#fff" stroke="#000" stroke-width="1.9"/>
<circle cx="795.6" cy="1923.4" r="3.9" fill="#fff" stroke="#000" stroke-width="1.9"/>
<circle cx="795.6" cy="1931.7" r="3.9" fill="#fff" stroke="#000" stroke-width="1.9"/>
<circle cx="795.6" cy="1969.7" r="3.9" fill="#fff" stroke="#000" stroke-width="1.9"/>
<text x="625.3" y="2026.5" font-size="24" text-anchor="middle" fill="#000">WT</text>
<text x="702.4" y="2026.5" font-size="24" text-anchor="middle" fill="#000">NAc</text>
<text x="700.7" y="2054.0" font-size="24" text-anchor="middle" fill="#000">D3RcKO</text>
<text x="805.7" y="2026.5" font-size="24" text-anchor="middle" fill="#000">NAc</text>
<text x="804.3" y="2054.0" font-size="24" text-anchor="middle" fill="#000">D1RcKO</text>
<text x="501.0" y="1779.5" font-size="24.1" text-anchor="middle" fill="#000" transform="rotate(-90 501.0 1779.5)">Time on platform (% of test time)</text>
<line x1="625.3" y1="1477.8" x2="795.6" y2="1477.8" stroke="#000" stroke-width="1.6"/>
<text x="710.9" y="1478.0" font-size="31" text-anchor="middle" fill="#000" class="ti" letter-spacing="3">**</text>
<line x1="710.5" y1="1538.1" x2="795.6" y2="1538.1" stroke="#000" stroke-width="1.6"/>
<text x="752.6" y="1538.0" font-size="31" text-anchor="middle" fill="#000" class="ti" letter-spacing="3">*</text>
<text x="909.0" y="1301.0" font-size="47" text-anchor="start" font-weight="bold" fill="#000">g</text>
<rect x="1225.7" y="1607.8" width="70.4" height="376.1" fill="#f5dcb8"/>
<text x="1261.0" y="1601.3" font-size="27.3" text-anchor="middle" fill="#b02a30">AP5</text>
<line x1="1048.7" y1="1607.8" x2="1048.7" y2="1983.9" stroke="#000" stroke-width="1.6"/>
<line x1="1037.5" y1="1983.9" x2="1048.7" y2="1983.9" stroke="#000" stroke-width="1.6"/>
<text x="1026.0" y="1993.4" font-size="26.5" text-anchor="end" fill="#000" class="ti">0</text>
<line x1="1037.5" y1="1858.5" x2="1048.7" y2="1858.5" stroke="#000" stroke-width="1.6"/>
<text x="1026.0" y="1868.0" font-size="26.5" text-anchor="end" fill="#000" class="ti">50</text>
<line x1="1037.5" y1="1733.2" x2="1048.7" y2="1733.2" stroke="#000" stroke-width="1.6"/>
<text x="1026.0" y="1742.7" font-size="26.5" text-anchor="end" fill="#000" class="ti">100</text>
<line x1="1037.5" y1="1607.8" x2="1048.7" y2="1607.8" stroke="#000" stroke-width="1.6"/>
<text x="1026.0" y="1617.3" font-size="26.5" text-anchor="end" fill="#000" class="ti">150</text>
<line x1="1034.3" y1="1983.9" x2="1614.8" y2="1983.9" stroke="#000" stroke-width="1.6"/>
<line x1="1119.6" y1="1983.9" x2="1119.6" y2="1997.0" stroke="#000" stroke-width="1.6"/>
<text x="1119.6" y="2029.6" font-size="26.5" text-anchor="middle" fill="#000" class="ti">1</text>
<line x1="1260.5" y1="1983.9" x2="1260.5" y2="1997.0" stroke="#000" stroke-width="1.6"/>
<text x="1260.5" y="2029.6" font-size="26.5" text-anchor="middle" fill="#000" class="ti">2</text>
<line x1="1401.3" y1="1983.9" x2="1401.3" y2="1997.0" stroke="#000" stroke-width="1.6"/>
<text x="1401.3" y="2029.6" font-size="26.5" text-anchor="middle" fill="#000" class="ti">3</text>
<line x1="1542.2" y1="1983.9" x2="1542.2" y2="1997.0" stroke="#000" stroke-width="1.6"/>
<text x="1542.2" y="2029.6" font-size="26.5" text-anchor="middle" fill="#000" class="ti">4</text>
<text x="1329.0" y="2081.0" font-size="27" text-anchor="middle" fill="#000" class="ti">FR1</text>
<text x="958.0" y="1804.5" font-size="27.5" text-anchor="middle" fill="#000" transform="rotate(-90 958.0 1804.5)" class="ti">Lever presses</text>
<polyline points="1119.6,1949.1 1261.3,1933.9 1401.7,1865.7 1542.2,1793.9" fill="none" stroke="#9cc6f2" stroke-width="1.6"/>
<line x1="1261.3" y1="1923.0" x2="1261.3" y2="1947.0" stroke="#9cc6f2" stroke-width="1.6"/>
<line x1="1401.7" y1="1836.0" x2="1401.7" y2="1897.0" stroke="#9cc6f2" stroke-width="1.6"/>
<line x1="1542.2" y1="1751.3" x2="1542.2" y2="1794.8" stroke="#9cc6f2" stroke-width="1.6"/>
<rect x="1111.9" y="1941.4" width="15.4" height="15.4" fill="#9cc6f2"/>
<rect x="1253.6" y="1926.2" width="15.4" height="15.4" fill="#9cc6f2"/>
<rect x="1394.0" y="1858.0" width="15.4" height="15.4" fill="#9cc6f2"/>
<rect x="1534.5" y="1786.2" width="15.4" height="15.4" fill="#9cc6f2"/>
<polyline points="1119.6,1921.7 1261.3,1824.3 1401.7,1817.4 1542.2,1805.7" fill="none" stroke="#000" stroke-width="1.6"/>
<line x1="1119.6" y1="1910.0" x2="1119.6" y2="1934.0" stroke="#000" stroke-width="1.6"/>
<line x1="1261.3" y1="1805.7" x2="1261.3" y2="1842.6" stroke="#000" stroke-width="1.6"/>
<line x1="1401.7" y1="1805.7" x2="1401.7" y2="1829.6" stroke="#000" stroke-width="1.6"/>
<line x1="1542.2" y1="1777.4" x2="1542.2" y2="1833.9" stroke="#000" stroke-width="1.6"/>
<circle cx="1119.6" cy="1921.7" r="8.3" fill="#000" stroke="none" stroke-width="0"/>
<circle cx="1261.3" cy="1824.3" r="8.3" fill="#000" stroke="none" stroke-width="0"/>
<circle cx="1401.7" cy="1817.4" r="8.3" fill="#000" stroke="none" stroke-width="0"/>
<circle cx="1542.2" cy="1805.7" r="8.3" fill="#000" stroke="none" stroke-width="0"/>
<text x="1259.5" y="1786.0" font-size="33" text-anchor="middle" fill="#000" letter-spacing="2">***</text>
<line x1="1335.7" y1="1614.3" x2="1377.0" y2="1614.3" stroke="#000" stroke-width="1.6"/>
<circle cx="1356.0" cy="1614.3" r="8.3" fill="#000" stroke="none" stroke-width="0"/>
<text x="1399.6" y="1607.8" font-size="26" text-anchor="start" fill="#000" class="ti">Ipsilateral</text>
<text x="1399.6" y="1636.0" font-size="26" text-anchor="start" fill="#000" class="ti">control</text>
<line x1="1335.7" y1="1690.4" x2="1377.0" y2="1690.4" stroke="#9cc6f2" stroke-width="1.6"/>
<rect x="1348.3" y="1682.7" width="15.4" height="15.4" fill="#9cc6f2"/>
<text x="1399.6" y="1684.0" font-size="26" text-anchor="start" fill="#000" class="ti">Contralateral</text>
<text x="1399.6" y="1713.0" font-size="26" text-anchor="start" fill="#000" class="ti" word-spacing="-4">experim ental</text>
<line x1="1773.4" y1="1548.9" x2="1773.4" y2="1973.2" stroke="#000" stroke-width="1.6"/>
<line x1="1762.6" y1="1974.2" x2="1773.4" y2="1974.2" stroke="#000" stroke-width="1.6"/>
<text x="1756.0" y="1984.2" font-size="27" text-anchor="end" fill="#000" class="ti">-20</text>
<line x1="1762.6" y1="1867.9" x2="1773.4" y2="1867.9" stroke="#000" stroke-width="1.6"/>
<text x="1756.0" y="1877.9" font-size="27" text-anchor="end" fill="#000" class="ti">0</text>
<line x1="1762.6" y1="1761.6" x2="1773.4" y2="1761.6" stroke="#000" stroke-width="1.6"/>
<text x="1756.0" y="1771.6" font-size="27" text-anchor="end" fill="#000" class="ti">20</text>
<line x1="1762.6" y1="1655.2" x2="1773.4" y2="1655.2" stroke="#000" stroke-width="1.6"/>
<text x="1756.0" y="1665.2" font-size="27" text-anchor="end" fill="#000" class="ti">40</text>
<line x1="1762.6" y1="1548.9" x2="1773.4" y2="1548.9" stroke="#000" stroke-width="1.6"/>
<text x="1756.0" y="1558.9" font-size="27" text-anchor="end" fill="#000" class="ti">60</text>
<line x1="1762.6" y1="1867.9" x2="2057.5" y2="1867.9" stroke="#000" stroke-width="1.6"/>
<line x1="1867.8" y1="1867.9" x2="1867.8" y2="1879.5" stroke="#000" stroke-width="1.6"/>
<text x="1870.8" y="1919.0" font-size="27" text-anchor="middle" fill="#000" class="ti">20</text>
<line x1="1961.6" y1="1867.9" x2="1961.6" y2="1879.5" stroke="#000" stroke-width="1.6"/>
<text x="1964.6" y="1919.0" font-size="27" text-anchor="middle" fill="#000" class="ti">40</text>
<line x1="2056.4" y1="1867.9" x2="2056.4" y2="1879.5" stroke="#000" stroke-width="1.6"/>
<text x="2059.4" y="1919.0" font-size="27" text-anchor="middle" fill="#000" class="ti">60</text>
<text x="1940.6" y="1973.2" font-size="27.5" text-anchor="middle" fill="#000" class="ti">AL presses Day 1</text>
<text x="1700.0" y="1771.0" font-size="28.4" text-anchor="middle" fill="#000" transform="rotate(-90 1700.0 1771.0)" class="ti">Change in AL presses</text>
<line x1="1787.8" y1="1674.7" x2="2007.7" y2="1645.1" stroke="#000" stroke-width="1.6"/>
<line x1="1793.2" y1="1847.0" x2="1896.0" y2="1816.4" stroke="#9cc6f2" stroke-width="1.6"/>
<circle cx="1787.8" cy="1746.1" r="7.3" fill="#000" stroke="none" stroke-width="0"/>
<circle cx="1825.6" cy="1666.0" r="7.3" fill="#000" stroke="none" stroke-width="0"/>
<circle cx="1873.2" cy="1581.3" r="7.3" fill="#000" stroke="none" stroke-width="0"/>
<circle cx="1876.8" cy="1603.0" r="7.3" fill="#000" stroke="none" stroke-width="0"/>
<circle cx="1938.5" cy="1587.1" r="7.3" fill="#000" stroke="none" stroke-width="0"/>
<circle cx="1915.0" cy="1677.6" r="7.3" fill="#000" stroke="none" stroke-width="0"/>
<circle cx="1901.4" cy="1724.4" r="7.3" fill="#000" stroke="none" stroke-width="0"/>
<circle cx="2008.8" cy="1703.5" r="7.3" fill="#000" stroke="none" stroke-width="0"/>
<rect x="1825.2" y="1772.0" width="11.6" height="11.6" fill="#9cc6f2"/>
<rect x="1834.3" y="1787.9" width="11.6" height="11.6" fill="#9cc6f2"/>
<rect x="1890.9" y="1787.9" width="11.6" height="11.6" fill="#9cc6f2"/>
<rect x="1834.3" y="1850.9" width="11.6" height="11.6" fill="#9cc6f2"/>
<rect x="1787.4" y="1856.3" width="11.6" height="11.6" fill="#9cc6f2"/>
<rect x="1792.8" y="1856.3" width="11.6" height="11.6" fill="#9cc6f2"/>
<rect x="1866.7" y="1881.9" width="11.6" height="11.6" fill="#9cc6f2"/>
<line x1="1793.2" y1="1464.9" x2="1825.6" y2="1464.9" stroke="#000" stroke-width="1.6"/>
<circle cx="1809.4" cy="1464.9" r="7.3" fill="#000" stroke="none" stroke-width="0"/>
<text x="1843.0" y="1459.5" font-size="24.5" text-anchor="start" fill="#000">Ipsilateral</text>
<text x="1843.0" y="1486.5" font-size="24.5" text-anchor="start" fill="#000">control</text>
<line x1="1978.9" y1="1466.0" x2="2011.3" y2="1466.0" stroke="#9cc6f2" stroke-width="1.6"/>
<rect x="1989.2" y="1460.2" width="11.6" height="11.6" fill="#9cc6f2"/>
<text x="2027.5" y="1461.3" font-size="24.5" text-anchor="start" fill="#000">Contralateral</text>
<text x="2027.5" y="1488.3" font-size="24.5" text-anchor="start" fill="#000">experimental</text>
<text x="1800.4" y="1531.6" font-size="24">R<tspan dy="-10" font-size="17">2</tspan><tspan dy="10"> = 0.02</tspan></text>
<text x="1986.8" y="1537" font-size="24">R<tspan dy="-10" font-size="17">2</tspan><tspan dy="10"> = 0.06</tspan></text>
</svg>
</body></html>
